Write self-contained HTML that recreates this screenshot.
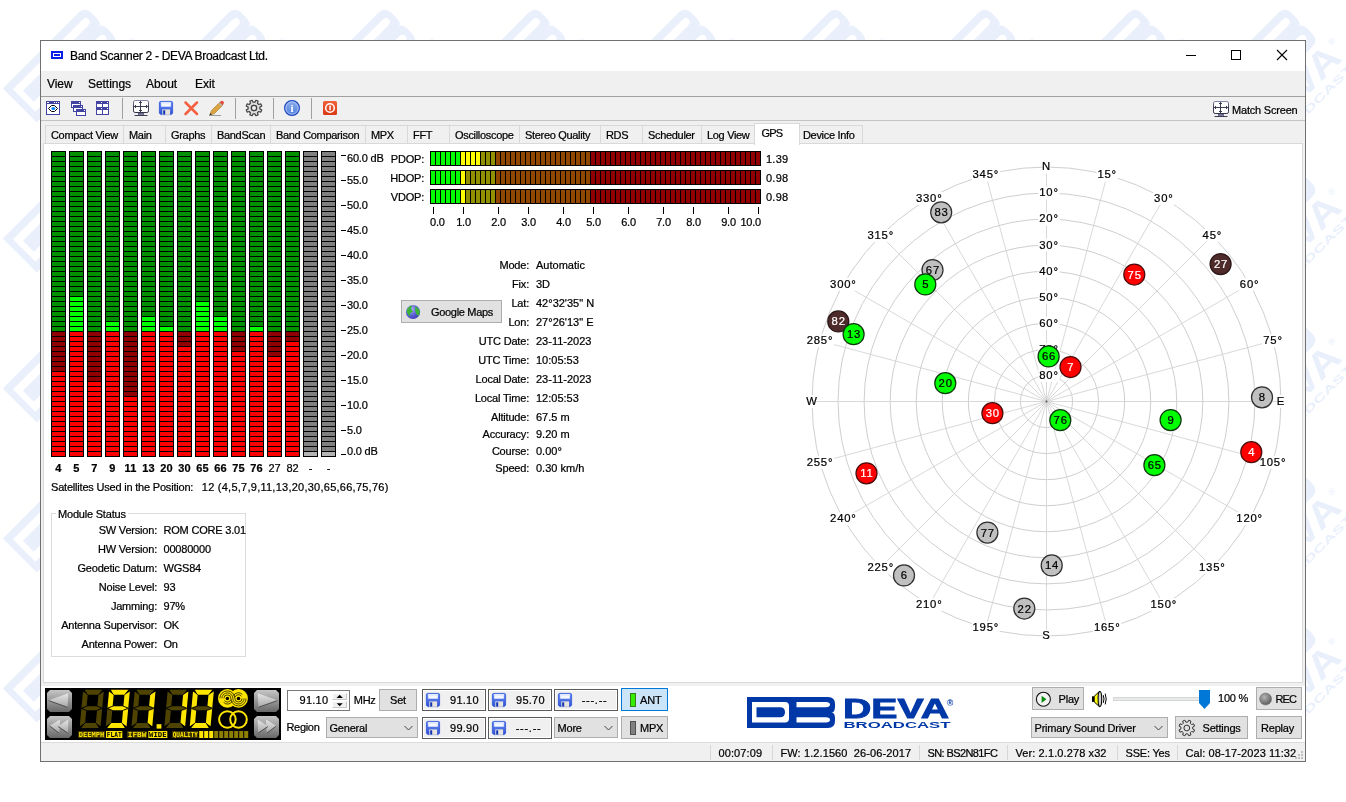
<!DOCTYPE html>
<html lang="en"><head><meta charset="utf-8"><title>Band Scanner 2 - DEVA Broadcast Ltd.</title>
<style>
html,body{margin:0;padding:0;}
body{width:1346px;height:802px;overflow:hidden;background:#fff;position:relative;font-family:"Liberation Sans",sans-serif;font-size:11px;color:#000;}
.a{position:absolute;}
.t{position:absolute;white-space:pre;font-size:11px;line-height:13px;height:13px;letter-spacing:-0.2px;color:#000;-webkit-text-stroke:0.22px #000;}
.v{letter-spacing:0;}
.r{text-align:right;}
.n{letter-spacing:0.25px;}
.tb{letter-spacing:-0.32px;}
.sb{letter-spacing:0.1px;}
.dash{letter-spacing:0.75px;}
.px{font-family:"DejaVu Sans Mono","Liberation Mono",monospace;font-weight:bold;font-size:7px;}
.b{font-weight:bold;}
.seg{font-size:12px;letter-spacing:-0.3px;line-height:15px;height:15px;}
.btn{position:absolute;box-sizing:border-box;background:#e1e1e1;border:1px solid #adadad;}
.pre{position:absolute;box-sizing:border-box;background:#f0f0f0;border:1px solid #5a5a5a;box-shadow:inset 0 0 0 1px #fff;}
svg{position:absolute;left:0;top:0;overflow:visible;}
svg text{font-family:"Liberation Sans",sans-serif;}
svg text.px{font-family:"DejaVu Sans Mono","Liberation Mono",monospace;}
</style></head>
<body>
<svg width="1346" height="802" viewBox="0 0 1346 802">
<g fill="#e9f0fc">
<g transform="translate(2.8 88.4) rotate(-45)"><g transform="scale(1.32 1.55)"><path fill-rule="evenodd" d="M0 0H81Q88 0 88 7V9.5Q88 15.5 84.5 15.5Q88 15.5 88 21.5V24Q88 31 81 31H0Z M5 5V25.5H38Q42 25.5 42 21.5V9Q42 5 38 5Z M49.5 5V10.3H79Q83 10.3 83 7.6Q83 5 79 5Z M49.5 20.2V25.5H79Q83 25.5 83 22.8Q83 20.2 79 20.2Z"/><path d="M9.5 10.3H33Q38 10.3 38 15.2Q38 20.2 33 20.2H9.5Z"/></g><text x="121" y="61" font-size="9" font-weight="bold">®</text></g>
<g transform="translate(2.8 238.4) rotate(-45)"><g transform="scale(1.32 1.55)"><path fill-rule="evenodd" d="M0 0H81Q88 0 88 7V9.5Q88 15.5 84.5 15.5Q88 15.5 88 21.5V24Q88 31 81 31H0Z M5 5V25.5H38Q42 25.5 42 21.5V9Q42 5 38 5Z M49.5 5V10.3H79Q83 10.3 83 7.6Q83 5 79 5Z M49.5 20.2V25.5H79Q83 25.5 83 22.8Q83 20.2 79 20.2Z"/><path d="M9.5 10.3H33Q38 10.3 38 15.2Q38 20.2 33 20.2H9.5Z"/></g></g>
<g transform="translate(2.8 388.4) rotate(-45)"><g transform="scale(1.32 1.55)"><path fill-rule="evenodd" d="M0 0H81Q88 0 88 7V9.5Q88 15.5 84.5 15.5Q88 15.5 88 21.5V24Q88 31 81 31H0Z M5 5V25.5H38Q42 25.5 42 21.5V9Q42 5 38 5Z M49.5 5V10.3H79Q83 10.3 83 7.6Q83 5 79 5Z M49.5 20.2V25.5H79Q83 25.5 83 22.8Q83 20.2 79 20.2Z"/><path d="M9.5 10.3H33Q38 10.3 38 15.2Q38 20.2 33 20.2H9.5Z"/></g></g>
<g transform="translate(2.8 538.4) rotate(-45)"><g transform="scale(1.32 1.55)"><path fill-rule="evenodd" d="M0 0H81Q88 0 88 7V9.5Q88 15.5 84.5 15.5Q88 15.5 88 21.5V24Q88 31 81 31H0Z M5 5V25.5H38Q42 25.5 42 21.5V9Q42 5 38 5Z M49.5 5V10.3H79Q83 10.3 83 7.6Q83 5 79 5Z M49.5 20.2V25.5H79Q83 25.5 83 22.8Q83 20.2 79 20.2Z"/><path d="M9.5 10.3H33Q38 10.3 38 15.2Q38 20.2 33 20.2H9.5Z"/></g></g>
<g transform="translate(2.8 688.4) rotate(-45)"><g transform="scale(1.32 1.55)"><path fill-rule="evenodd" d="M0 0H81Q88 0 88 7V9.5Q88 15.5 84.5 15.5Q88 15.5 88 21.5V24Q88 31 81 31H0Z M5 5V25.5H38Q42 25.5 42 21.5V9Q42 5 38 5Z M49.5 5V10.3H79Q83 10.3 83 7.6Q83 5 79 5Z M49.5 20.2V25.5H79Q83 25.5 83 22.8Q83 20.2 79 20.2Z"/><path d="M9.5 10.3H33Q38 10.3 38 15.2Q38 20.2 33 20.2H9.5Z"/></g></g>
<g transform="translate(152.8 88.4) rotate(-45)"><g transform="scale(1.32 1.55)"><path fill-rule="evenodd" d="M0 0H81Q88 0 88 7V9.5Q88 15.5 84.5 15.5Q88 15.5 88 21.5V24Q88 31 81 31H0Z M5 5V25.5H38Q42 25.5 42 21.5V9Q42 5 38 5Z M49.5 5V10.3H79Q83 10.3 83 7.6Q83 5 79 5Z M49.5 20.2V25.5H79Q83 25.5 83 22.8Q83 20.2 79 20.2Z"/><path d="M9.5 10.3H33Q38 10.3 38 15.2Q38 20.2 33 20.2H9.5Z"/></g><text x="121" y="61" font-size="9" font-weight="bold">®</text></g>
<g transform="translate(302.8 88.4) rotate(-45)"><g transform="scale(1.32 1.55)"><path fill-rule="evenodd" d="M0 0H81Q88 0 88 7V9.5Q88 15.5 84.5 15.5Q88 15.5 88 21.5V24Q88 31 81 31H0Z M5 5V25.5H38Q42 25.5 42 21.5V9Q42 5 38 5Z M49.5 5V10.3H79Q83 10.3 83 7.6Q83 5 79 5Z M49.5 20.2V25.5H79Q83 25.5 83 22.8Q83 20.2 79 20.2Z"/><path d="M9.5 10.3H33Q38 10.3 38 15.2Q38 20.2 33 20.2H9.5Z"/></g><text x="121" y="61" font-size="9" font-weight="bold">®</text></g>
<g transform="translate(452.8 88.4) rotate(-45)"><g transform="scale(1.32 1.55)"><path fill-rule="evenodd" d="M0 0H81Q88 0 88 7V9.5Q88 15.5 84.5 15.5Q88 15.5 88 21.5V24Q88 31 81 31H0Z M5 5V25.5H38Q42 25.5 42 21.5V9Q42 5 38 5Z M49.5 5V10.3H79Q83 10.3 83 7.6Q83 5 79 5Z M49.5 20.2V25.5H79Q83 25.5 83 22.8Q83 20.2 79 20.2Z"/><path d="M9.5 10.3H33Q38 10.3 38 15.2Q38 20.2 33 20.2H9.5Z"/></g><text x="121" y="61" font-size="9" font-weight="bold">®</text></g>
<g transform="translate(602.8 88.4) rotate(-45)"><g transform="scale(1.32 1.55)"><path fill-rule="evenodd" d="M0 0H81Q88 0 88 7V9.5Q88 15.5 84.5 15.5Q88 15.5 88 21.5V24Q88 31 81 31H0Z M5 5V25.5H38Q42 25.5 42 21.5V9Q42 5 38 5Z M49.5 5V10.3H79Q83 10.3 83 7.6Q83 5 79 5Z M49.5 20.2V25.5H79Q83 25.5 83 22.8Q83 20.2 79 20.2Z"/><path d="M9.5 10.3H33Q38 10.3 38 15.2Q38 20.2 33 20.2H9.5Z"/></g><text x="121" y="61" font-size="9" font-weight="bold">®</text></g>
<g transform="translate(752.8 88.4) rotate(-45)"><g transform="scale(1.32 1.55)"><path fill-rule="evenodd" d="M0 0H81Q88 0 88 7V9.5Q88 15.5 84.5 15.5Q88 15.5 88 21.5V24Q88 31 81 31H0Z M5 5V25.5H38Q42 25.5 42 21.5V9Q42 5 38 5Z M49.5 5V10.3H79Q83 10.3 83 7.6Q83 5 79 5Z M49.5 20.2V25.5H79Q83 25.5 83 22.8Q83 20.2 79 20.2Z"/><path d="M9.5 10.3H33Q38 10.3 38 15.2Q38 20.2 33 20.2H9.5Z"/></g><text x="121" y="61" font-size="9" font-weight="bold">®</text></g>
<g transform="translate(902.8 88.4) rotate(-45)"><g transform="scale(1.32 1.55)"><path fill-rule="evenodd" d="M0 0H81Q88 0 88 7V9.5Q88 15.5 84.5 15.5Q88 15.5 88 21.5V24Q88 31 81 31H0Z M5 5V25.5H38Q42 25.5 42 21.5V9Q42 5 38 5Z M49.5 5V10.3H79Q83 10.3 83 7.6Q83 5 79 5Z M49.5 20.2V25.5H79Q83 25.5 83 22.8Q83 20.2 79 20.2Z"/><path d="M9.5 10.3H33Q38 10.3 38 15.2Q38 20.2 33 20.2H9.5Z"/></g><text x="121" y="61" font-size="9" font-weight="bold">®</text></g>
<g transform="translate(1052.8 88.4) rotate(-45)"><g transform="scale(1.32 1.55)"><path fill-rule="evenodd" d="M0 0H81Q88 0 88 7V9.5Q88 15.5 84.5 15.5Q88 15.5 88 21.5V24Q88 31 81 31H0Z M5 5V25.5H38Q42 25.5 42 21.5V9Q42 5 38 5Z M49.5 5V10.3H79Q83 10.3 83 7.6Q83 5 79 5Z M49.5 20.2V25.5H79Q83 25.5 83 22.8Q83 20.2 79 20.2Z"/><path d="M9.5 10.3H33Q38 10.3 38 15.2Q38 20.2 33 20.2H9.5Z"/></g><text x="121" y="61" font-size="9" font-weight="bold">®</text></g>
<g transform="translate(1202.8 88.4) rotate(-45)"><g transform="scale(1.32 1.55)"><path fill-rule="evenodd" d="M0 0H81Q88 0 88 7V9.5Q88 15.5 84.5 15.5Q88 15.5 88 21.5V24Q88 31 81 31H0Z M5 5V25.5H38Q42 25.5 42 21.5V9Q42 5 38 5Z M49.5 5V10.3H79Q83 10.3 83 7.6Q83 5 79 5Z M49.5 20.2V25.5H79Q83 25.5 83 22.8Q83 20.2 79 20.2Z"/><path d="M9.5 10.3H33Q38 10.3 38 15.2Q38 20.2 33 20.2H9.5Z"/></g><text x="0" y="79" font-size="36" font-weight="bold" textLength="120" lengthAdjust="spacingAndGlyphs">DEVA</text><text x="1" y="93" font-size="10.5" font-weight="bold" textLength="119" lengthAdjust="spacingAndGlyphs">BROADCAST</text><text x="121" y="61" font-size="9" font-weight="bold">®</text></g>
<g transform="translate(1202.8 238.4) rotate(-45)"><g transform="scale(1.32 1.55)"><path fill-rule="evenodd" d="M0 0H81Q88 0 88 7V9.5Q88 15.5 84.5 15.5Q88 15.5 88 21.5V24Q88 31 81 31H0Z M5 5V25.5H38Q42 25.5 42 21.5V9Q42 5 38 5Z M49.5 5V10.3H79Q83 10.3 83 7.6Q83 5 79 5Z M49.5 20.2V25.5H79Q83 25.5 83 22.8Q83 20.2 79 20.2Z"/><path d="M9.5 10.3H33Q38 10.3 38 15.2Q38 20.2 33 20.2H9.5Z"/></g><text x="0" y="79" font-size="36" font-weight="bold" textLength="120" lengthAdjust="spacingAndGlyphs">DEVA</text><text x="1" y="93" font-size="10.5" font-weight="bold" textLength="119" lengthAdjust="spacingAndGlyphs">BROADCAST</text><text x="121" y="61" font-size="9" font-weight="bold">®</text></g>
<g transform="translate(1202.8 388.4) rotate(-45)"><g transform="scale(1.32 1.55)"><path fill-rule="evenodd" d="M0 0H81Q88 0 88 7V9.5Q88 15.5 84.5 15.5Q88 15.5 88 21.5V24Q88 31 81 31H0Z M5 5V25.5H38Q42 25.5 42 21.5V9Q42 5 38 5Z M49.5 5V10.3H79Q83 10.3 83 7.6Q83 5 79 5Z M49.5 20.2V25.5H79Q83 25.5 83 22.8Q83 20.2 79 20.2Z"/><path d="M9.5 10.3H33Q38 10.3 38 15.2Q38 20.2 33 20.2H9.5Z"/></g><text x="0" y="79" font-size="36" font-weight="bold" textLength="120" lengthAdjust="spacingAndGlyphs">DEVA</text><text x="1" y="93" font-size="10.5" font-weight="bold" textLength="119" lengthAdjust="spacingAndGlyphs">BROADCAST</text><text x="121" y="61" font-size="9" font-weight="bold">®</text></g>
<g transform="translate(1202.8 538.4) rotate(-45)"><g transform="scale(1.32 1.55)"><path fill-rule="evenodd" d="M0 0H81Q88 0 88 7V9.5Q88 15.5 84.5 15.5Q88 15.5 88 21.5V24Q88 31 81 31H0Z M5 5V25.5H38Q42 25.5 42 21.5V9Q42 5 38 5Z M49.5 5V10.3H79Q83 10.3 83 7.6Q83 5 79 5Z M49.5 20.2V25.5H79Q83 25.5 83 22.8Q83 20.2 79 20.2Z"/><path d="M9.5 10.3H33Q38 10.3 38 15.2Q38 20.2 33 20.2H9.5Z"/></g><text x="0" y="79" font-size="36" font-weight="bold" textLength="120" lengthAdjust="spacingAndGlyphs">DEVA</text><text x="1" y="93" font-size="10.5" font-weight="bold" textLength="119" lengthAdjust="spacingAndGlyphs">BROADCAST</text><text x="121" y="61" font-size="9" font-weight="bold">®</text></g>
<g transform="translate(1202.8 688.4) rotate(-45)"><g transform="scale(1.32 1.55)"><path fill-rule="evenodd" d="M0 0H81Q88 0 88 7V9.5Q88 15.5 84.5 15.5Q88 15.5 88 21.5V24Q88 31 81 31H0Z M5 5V25.5H38Q42 25.5 42 21.5V9Q42 5 38 5Z M49.5 5V10.3H79Q83 10.3 83 7.6Q83 5 79 5Z M49.5 20.2V25.5H79Q83 25.5 83 22.8Q83 20.2 79 20.2Z"/><path d="M9.5 10.3H33Q38 10.3 38 15.2Q38 20.2 33 20.2H9.5Z"/></g><text x="0" y="79" font-size="36" font-weight="bold" textLength="120" lengthAdjust="spacingAndGlyphs">DEVA</text><text x="1" y="93" font-size="10.5" font-weight="bold" textLength="119" lengthAdjust="spacingAndGlyphs">BROADCAST</text><text x="121" y="61" font-size="9" font-weight="bold">®</text></g>
</g>
<rect x="0" y="762" width="1346" height="40" fill="#fff"/>
</svg>
<div class="a" style="left:40px;top:40px;width:1264px;height:720px;border:1px solid #707070;background:#f0f0f0;"></div>
<div class="a" style="left:41px;top:41px;width:1264px;height:30px;background:#fff;"></div>
<div class="a" style="left:51px;top:51px;width:12px;height:8px;background:#0a1ee6;"></div>
<div class="a" style="left:53px;top:53px;width:8px;height:4px;background:#fff;"></div>
<div class="a" style="left:54px;top:54px;width:6px;height:2px;background:#0a1ee6;"></div>
<div class="t seg" style="left:70px;top:48.7px;">Band Scanner 2 - DEVA Broadcast Ltd.</div>
<svg width="1346" height="802" viewBox="0 0 1346 802"><g stroke="#000" stroke-width="1" fill="none" shape-rendering="crispEdges"><path d="M1186 55.5H1196"/><rect x="1231.5" y="50.5" width="9" height="9"/></g><g stroke="#000" stroke-width="1.1" fill="none"><path d="M1277 50L1287 60M1287 50L1277 60"/></g></svg>
<div class="t seg" style="left:47px;top:77.3px;letter-spacing:-0.05px;">View</div>
<div class="t seg" style="left:88px;top:77.3px;letter-spacing:-0.05px;">Settings</div>
<div class="t seg" style="left:146px;top:77.3px;letter-spacing:-0.05px;">About</div>
<div class="t seg" style="left:195px;top:77.3px;letter-spacing:-0.05px;">Exit</div>
<div class="a" style="left:41px;top:96px;width:1264px;height:1px;background:#a0a0a0;"></div>
<div class="a" style="left:41px;top:120px;width:1264px;height:1px;background:#c4c4c4;"></div>
<svg width="1346" height="802" viewBox="0 0 1346 802"><rect x="122" y="98" width="1" height="21" fill="#a0a0a0"/><rect x="235" y="98" width="1" height="21" fill="#a0a0a0"/><rect x="273" y="98" width="1" height="21" fill="#a0a0a0"/><rect x="311" y="98" width="1" height="21" fill="#a0a0a0"/><g shape-rendering="crispEdges"><rect x="46" y="101" width="14" height="14" fill="#4343a4"/><rect x="47" y="104" width="12" height="10" fill="#fff"/><rect x="47" y="102" width="2" height="1" fill="#fff"/><rect x="54" y="102" width="1" height="1" fill="#fff"/><rect x="56" y="102" width="1" height="1" fill="#fff"/><rect x="58" y="102" width="1" height="1" fill="#fff"/></g><path d="M48.5 108.5L51.5 105.5H54.5L57.5 108.5L54.5 111.5H51.5Z" fill="#fff" stroke="#000" stroke-width="1"/><ellipse cx="53.3" cy="108.5" rx="2" ry="1.6" fill="#0a84ff"/><g shape-rendering="crispEdges"><rect x="71" y="101" width="10" height="7" fill="#4343a4"/><rect x="72" y="104" width="8" height="3" fill="#fff"/><rect x="79" y="102" width="1" height="1" fill="#fff"/><rect x="73" y="105" width="10" height="7" fill="#4343a4"/><rect x="74" y="108" width="8" height="3" fill="#fff"/><rect x="81" y="106" width="1" height="1" fill="#fff"/><rect x="76" y="109" width="10" height="7" fill="#4343a4"/><rect x="77" y="112" width="8" height="3" fill="#fff"/><rect x="84" y="110" width="1" height="1" fill="#fff"/></g><g shape-rendering="crispEdges"><rect x="96" y="101" width="13" height="14" fill="#4343a4"/><rect x="97" y="104" width="5" height="3" fill="#fff"/><rect x="103" y="104" width="5" height="3" fill="#fff"/><rect x="97" y="110" width="5" height="4" fill="#fff"/><rect x="103" y="110" width="5" height="4" fill="#fff"/><rect x="101" y="102" width="1" height="1" fill="#fff"/><rect x="107" y="102" width="1" height="1" fill="#fff"/><rect x="101" y="108" width="1" height="1" fill="#fff"/><rect x="107" y="108" width="1" height="1" fill="#fff"/></g><g transform="translate(133 100)"><defs><linearGradient id="mg133" x1="0" y1="0" x2="0" y2="1"><stop offset="0" stop-color="#8484a4"/><stop offset="0.5" stop-color="#3c3c52"/><stop offset="1" stop-color="#34344a"/></linearGradient></defs><rect x="0.5" y="0.5" width="15" height="12" rx="1.6" fill="#fff" stroke="url(#mg133)"/><path d="M7.5 1V12M1 6.5H15M6 2.5H9M6 10.5H9M2.5 5V8M13.5 5V8" stroke="#3c3c52" stroke-width="1" fill="none"/><rect x="5.5" y="13" width="5" height="2.5" fill="#7c7ca4" stroke="#3c3c52" stroke-width="0.6"/><path d="M2 15.5H14" stroke="#3c3c52" stroke-width="1.1" stroke-linecap="round"/></g><g transform="translate(159 101)"><defs><linearGradient id="fg159_101" x1="0" y1="0" x2="0" y2="1"><stop offset="0" stop-color="#7096f8"/><stop offset="1" stop-color="#2a4cd4"/></linearGradient></defs><path d="M1.8 0.4H12.2Q13.6 0.4 13.6 1.8V12.2L12.2 13.6H1.8L0.4 12.2V1.8Q0.4 0.4 1.8 0.4Z" fill="url(#fg159_101)" stroke="#2c50d6" stroke-width="0.8"/><rect x="2.2" y="1.1" width="9.6" height="4.6" fill="#f6f8ff"/><rect x="2.2" y="1.1" width="9.6" height="1.6" fill="#dfe7ff"/><rect x="3.3" y="8.4" width="7.8" height="5.4" fill="#e6e4dc"/><rect x="4.2" y="9.3" width="2" height="4.3" fill="#1234b4"/></g><path d="M185.5 102.5L197 114M197 102.5L185.5 114" stroke="#f4603f" stroke-width="2.5" stroke-linecap="round" fill="none"/><g><path d="M209.5 115.5L211.5 110.5L219.5 102.5L222.5 105.5L214.5 113.5Z" fill="#d9a441" stroke="#a47a2a" stroke-width="0.6"/><path d="M219.5 102.5L221 101Q222.2 100.2 223.3 101.3Q224.4 102.4 223.6 103.8L222.5 105.5Z" fill="#e0503a"/><path d="M218.6 103.4L221.6 106.4L222.5 105.5L219.5 102.5Z" fill="#b8b8b8"/><path d="M209.5 115.5L210.4 113L212 114.6Z" fill="#333"/><rect x="209" y="115" width="12" height="1" fill="#9a9a9a"/></g><path d="M254.90 102.15L255.92 100.23L258.13 101.15L257.50 103.23L258.77 104.50L260.85 103.87L261.77 106.08L259.85 107.10L259.85 108.90L261.77 109.92L260.85 112.13L258.77 111.50L257.50 112.77L258.13 114.85L255.92 115.77L254.90 113.85L253.10 113.85L252.08 115.77L249.87 114.85L250.50 112.77L249.23 111.50L247.15 112.13L246.23 109.92L248.15 108.90L248.15 107.10L246.23 106.08L247.15 103.87L249.23 104.50L250.50 103.23L249.87 101.15L252.08 100.23L253.10 102.15Z" fill="#dcdcdc" stroke="#444" stroke-width="1.2" stroke-linejoin="round"/><circle cx="254" cy="108" r="2.64" fill="none" stroke="#444" stroke-width="1.2"/><circle cx="254" cy="108" r="2.6" fill="#f0f0f0" stroke="#444" stroke-width="1.2"/><defs><linearGradient id="ig" x1="0" y1="0" x2="0" y2="1"><stop offset="0" stop-color="#8fb0ee"/><stop offset="1" stop-color="#4f7fdc"/></linearGradient><linearGradient id="pg" x1="0" y1="0" x2="0" y2="1"><stop offset="0" stop-color="#f0603a"/><stop offset="1" stop-color="#d83a14"/></linearGradient></defs><circle cx="292" cy="108" r="7.4" fill="url(#ig)" stroke="#1c48c0" stroke-width="1.2"/><circle cx="292" cy="108" r="6.2" fill="none" stroke="#b8cdf6" stroke-width="0.8"/><text x="292" y="112.3" font-size="11" font-weight="bold" fill="#fff" text-anchor="middle" style="font-family:'Liberation Serif',serif">i</text><rect x="323" y="101" width="14" height="14" rx="1.5" fill="url(#pg)"/><circle cx="330" cy="108" r="4.3" fill="none" stroke="#fff" stroke-width="1.5"/><rect x="329.3" y="105.6" width="1.5" height="4.6" fill="#fff"/><g transform="translate(1213 101)"><defs><linearGradient id="mg1213" x1="0" y1="0" x2="0" y2="1"><stop offset="0" stop-color="#8484a4"/><stop offset="0.5" stop-color="#3c3c52"/><stop offset="1" stop-color="#34344a"/></linearGradient></defs><rect x="0.5" y="0.5" width="15" height="12" rx="1.6" fill="#fff" stroke="url(#mg1213)"/><path d="M7.5 1V12M1 6.5H15M6 2.5H9M6 10.5H9M2.5 5V8M13.5 5V8" stroke="#3c3c52" stroke-width="1" fill="none"/><rect x="5.5" y="13" width="5" height="2.5" fill="#7c7ca4" stroke="#3c3c52" stroke-width="0.6"/><path d="M2 15.5H14" stroke="#3c3c52" stroke-width="1.1" stroke-linecap="round"/></g></svg>
<div class="t " style="left:1232px;top:103.5px;">Match Screen</div>
<div class="a" style="left:43px;top:143px;width:1258px;height:538px;border:1px solid #d9d9d9;background:#fff;"></div>
<div class="a" style="left:45px;top:125px;width:77px;height:17px;border:1px solid #d9d9d9;border-bottom:none;background:#f0f0f0;"></div>
<div class="t tb" style="left:51px;top:128.5px;">Compact View</div>
<div class="a" style="left:123px;top:125px;width:41px;height:17px;border:1px solid #d9d9d9;border-bottom:none;background:#f0f0f0;"></div>
<div class="t tb" style="left:129px;top:128.5px;">Main</div>
<div class="a" style="left:165px;top:125px;width:45px;height:17px;border:1px solid #d9d9d9;border-bottom:none;background:#f0f0f0;"></div>
<div class="t tb" style="left:171px;top:128.5px;">Graphs</div>
<div class="a" style="left:211px;top:125px;width:58px;height:17px;border:1px solid #d9d9d9;border-bottom:none;background:#f0f0f0;"></div>
<div class="t tb" style="left:217px;top:128.5px;">BandScan</div>
<div class="a" style="left:270px;top:125px;width:94px;height:17px;border:1px solid #d9d9d9;border-bottom:none;background:#f0f0f0;"></div>
<div class="t tb" style="left:276px;top:128.5px;">Band Comparison</div>
<div class="a" style="left:365px;top:125px;width:41px;height:17px;border:1px solid #d9d9d9;border-bottom:none;background:#f0f0f0;"></div>
<div class="t tb" style="left:371px;top:128.5px;">MPX</div>
<div class="a" style="left:407px;top:125px;width:41px;height:17px;border:1px solid #d9d9d9;border-bottom:none;background:#f0f0f0;"></div>
<div class="t tb" style="left:413px;top:128.5px;">FFT</div>
<div class="a" style="left:449px;top:125px;width:69px;height:17px;border:1px solid #d9d9d9;border-bottom:none;background:#f0f0f0;"></div>
<div class="t tb" style="left:455px;top:128.5px;">Oscilloscope</div>
<div class="a" style="left:519px;top:125px;width:80px;height:17px;border:1px solid #d9d9d9;border-bottom:none;background:#f0f0f0;"></div>
<div class="t tb" style="left:525px;top:128.5px;">Stereo Quality</div>
<div class="a" style="left:600px;top:125px;width:41px;height:17px;border:1px solid #d9d9d9;border-bottom:none;background:#f0f0f0;"></div>
<div class="t tb" style="left:606px;top:128.5px;">RDS</div>
<div class="a" style="left:642px;top:125px;width:58px;height:17px;border:1px solid #d9d9d9;border-bottom:none;background:#f0f0f0;"></div>
<div class="t tb" style="left:648px;top:128.5px;">Scheduler</div>
<div class="a" style="left:701px;top:125px;width:54px;height:17px;border:1px solid #d9d9d9;border-bottom:none;background:#f0f0f0;"></div>
<div class="t tb" style="left:707px;top:128.5px;">Log View</div>
<div class="a" style="left:797px;top:125px;width:64px;height:17px;border:1px solid #d9d9d9;border-bottom:none;background:#f0f0f0;"></div>
<div class="t tb" style="left:803px;top:128.5px;">Device Info</div>
<div class="a" style="left:754px;top:123px;width:44px;height:21px;border:1px solid #d9d9d9;border-bottom:none;background:#fff;"></div>
<div class="t " style="left:761.5px;top:126.5px;letter-spacing:-0.8px;">GPS</div>
<svg width="1346" height="802" viewBox="0 0 1346 802" shape-rendering="crispEdges"><rect x="51" y="151" width="15" height="306" fill="#000"/><g fill="#009000"><rect x="52" y="152" width="13" height="4"/><rect x="52" y="157" width="13" height="4"/><rect x="52" y="162" width="13" height="4"/><rect x="52" y="167" width="13" height="4"/><rect x="52" y="172" width="13" height="4"/><rect x="52" y="177" width="13" height="4"/><rect x="52" y="182" width="13" height="4"/><rect x="52" y="187" width="13" height="4"/><rect x="52" y="192" width="13" height="4"/><rect x="52" y="197" width="13" height="4"/><rect x="52" y="202" width="13" height="4"/><rect x="52" y="207" width="13" height="4"/><rect x="52" y="212" width="13" height="4"/><rect x="52" y="217" width="13" height="4"/><rect x="52" y="222" width="13" height="4"/><rect x="52" y="227" width="13" height="4"/><rect x="52" y="232" width="13" height="4"/><rect x="52" y="237" width="13" height="4"/><rect x="52" y="242" width="13" height="4"/><rect x="52" y="247" width="13" height="4"/><rect x="52" y="252" width="13" height="4"/><rect x="52" y="257" width="13" height="4"/><rect x="52" y="262" width="13" height="4"/><rect x="52" y="267" width="13" height="4"/><rect x="52" y="272" width="13" height="4"/><rect x="52" y="277" width="13" height="4"/><rect x="52" y="282" width="13" height="4"/><rect x="52" y="287" width="13" height="4"/><rect x="52" y="292" width="13" height="4"/><rect x="52" y="297" width="13" height="4"/><rect x="52" y="302" width="13" height="4"/><rect x="52" y="307" width="13" height="4"/><rect x="52" y="312" width="13" height="4"/><rect x="52" y="317" width="13" height="4"/><rect x="52" y="322" width="13" height="4"/><rect x="52" y="327" width="13" height="4"/></g><g fill="#900000"><rect x="52" y="332" width="13" height="4"/><rect x="52" y="337" width="13" height="4"/><rect x="52" y="342" width="13" height="4"/><rect x="52" y="347" width="13" height="4"/><rect x="52" y="352" width="13" height="4"/><rect x="52" y="357" width="13" height="4"/><rect x="52" y="362" width="13" height="4"/><rect x="52" y="367" width="13" height="4"/></g><g fill="#ff0000"><rect x="52" y="372" width="13" height="4"/><rect x="52" y="377" width="13" height="4"/><rect x="52" y="382" width="13" height="4"/><rect x="52" y="387" width="13" height="4"/><rect x="52" y="392" width="13" height="4"/><rect x="52" y="397" width="13" height="4"/><rect x="52" y="402" width="13" height="4"/><rect x="52" y="407" width="13" height="4"/><rect x="52" y="412" width="13" height="4"/><rect x="52" y="417" width="13" height="4"/><rect x="52" y="422" width="13" height="4"/><rect x="52" y="427" width="13" height="4"/><rect x="52" y="432" width="13" height="4"/><rect x="52" y="437" width="13" height="4"/><rect x="52" y="442" width="13" height="4"/><rect x="52" y="447" width="13" height="4"/><rect x="52" y="452" width="13" height="4"/></g><rect x="69" y="151" width="15" height="306" fill="#000"/><g fill="#009000"><rect x="70" y="152" width="13" height="4"/><rect x="70" y="157" width="13" height="4"/><rect x="70" y="162" width="13" height="4"/><rect x="70" y="167" width="13" height="4"/><rect x="70" y="172" width="13" height="4"/><rect x="70" y="177" width="13" height="4"/><rect x="70" y="182" width="13" height="4"/><rect x="70" y="187" width="13" height="4"/><rect x="70" y="192" width="13" height="4"/><rect x="70" y="197" width="13" height="4"/><rect x="70" y="202" width="13" height="4"/><rect x="70" y="207" width="13" height="4"/><rect x="70" y="212" width="13" height="4"/><rect x="70" y="217" width="13" height="4"/><rect x="70" y="222" width="13" height="4"/><rect x="70" y="227" width="13" height="4"/><rect x="70" y="232" width="13" height="4"/><rect x="70" y="237" width="13" height="4"/><rect x="70" y="242" width="13" height="4"/><rect x="70" y="247" width="13" height="4"/><rect x="70" y="252" width="13" height="4"/><rect x="70" y="257" width="13" height="4"/><rect x="70" y="262" width="13" height="4"/><rect x="70" y="267" width="13" height="4"/><rect x="70" y="272" width="13" height="4"/><rect x="70" y="277" width="13" height="4"/><rect x="70" y="282" width="13" height="4"/><rect x="70" y="287" width="13" height="4"/><rect x="70" y="292" width="13" height="4"/></g><g fill="#00ff00"><rect x="70" y="297" width="13" height="4"/><rect x="70" y="302" width="13" height="4"/><rect x="70" y="307" width="13" height="4"/><rect x="70" y="312" width="13" height="4"/><rect x="70" y="317" width="13" height="4"/><rect x="70" y="322" width="13" height="4"/><rect x="70" y="327" width="13" height="4"/></g><g fill="#ff0000"><rect x="70" y="332" width="13" height="4"/><rect x="70" y="337" width="13" height="4"/><rect x="70" y="342" width="13" height="4"/><rect x="70" y="347" width="13" height="4"/><rect x="70" y="352" width="13" height="4"/><rect x="70" y="357" width="13" height="4"/><rect x="70" y="362" width="13" height="4"/><rect x="70" y="367" width="13" height="4"/><rect x="70" y="372" width="13" height="4"/><rect x="70" y="377" width="13" height="4"/><rect x="70" y="382" width="13" height="4"/><rect x="70" y="387" width="13" height="4"/><rect x="70" y="392" width="13" height="4"/><rect x="70" y="397" width="13" height="4"/><rect x="70" y="402" width="13" height="4"/><rect x="70" y="407" width="13" height="4"/><rect x="70" y="412" width="13" height="4"/><rect x="70" y="417" width="13" height="4"/><rect x="70" y="422" width="13" height="4"/><rect x="70" y="427" width="13" height="4"/><rect x="70" y="432" width="13" height="4"/><rect x="70" y="437" width="13" height="4"/><rect x="70" y="442" width="13" height="4"/><rect x="70" y="447" width="13" height="4"/><rect x="70" y="452" width="13" height="4"/></g><rect x="87" y="151" width="15" height="306" fill="#000"/><g fill="#009000"><rect x="88" y="152" width="13" height="4"/><rect x="88" y="157" width="13" height="4"/><rect x="88" y="162" width="13" height="4"/><rect x="88" y="167" width="13" height="4"/><rect x="88" y="172" width="13" height="4"/><rect x="88" y="177" width="13" height="4"/><rect x="88" y="182" width="13" height="4"/><rect x="88" y="187" width="13" height="4"/><rect x="88" y="192" width="13" height="4"/><rect x="88" y="197" width="13" height="4"/><rect x="88" y="202" width="13" height="4"/><rect x="88" y="207" width="13" height="4"/><rect x="88" y="212" width="13" height="4"/><rect x="88" y="217" width="13" height="4"/><rect x="88" y="222" width="13" height="4"/><rect x="88" y="227" width="13" height="4"/><rect x="88" y="232" width="13" height="4"/><rect x="88" y="237" width="13" height="4"/><rect x="88" y="242" width="13" height="4"/><rect x="88" y="247" width="13" height="4"/><rect x="88" y="252" width="13" height="4"/><rect x="88" y="257" width="13" height="4"/><rect x="88" y="262" width="13" height="4"/><rect x="88" y="267" width="13" height="4"/><rect x="88" y="272" width="13" height="4"/><rect x="88" y="277" width="13" height="4"/><rect x="88" y="282" width="13" height="4"/><rect x="88" y="287" width="13" height="4"/><rect x="88" y="292" width="13" height="4"/><rect x="88" y="297" width="13" height="4"/><rect x="88" y="302" width="13" height="4"/><rect x="88" y="307" width="13" height="4"/><rect x="88" y="312" width="13" height="4"/><rect x="88" y="317" width="13" height="4"/><rect x="88" y="322" width="13" height="4"/><rect x="88" y="327" width="13" height="4"/></g><g fill="#900000"><rect x="88" y="332" width="13" height="4"/><rect x="88" y="337" width="13" height="4"/><rect x="88" y="342" width="13" height="4"/><rect x="88" y="347" width="13" height="4"/><rect x="88" y="352" width="13" height="4"/><rect x="88" y="357" width="13" height="4"/><rect x="88" y="362" width="13" height="4"/><rect x="88" y="367" width="13" height="4"/><rect x="88" y="372" width="13" height="4"/><rect x="88" y="377" width="13" height="4"/></g><g fill="#ff0000"><rect x="88" y="382" width="13" height="4"/><rect x="88" y="387" width="13" height="4"/><rect x="88" y="392" width="13" height="4"/><rect x="88" y="397" width="13" height="4"/><rect x="88" y="402" width="13" height="4"/><rect x="88" y="407" width="13" height="4"/><rect x="88" y="412" width="13" height="4"/><rect x="88" y="417" width="13" height="4"/><rect x="88" y="422" width="13" height="4"/><rect x="88" y="427" width="13" height="4"/><rect x="88" y="432" width="13" height="4"/><rect x="88" y="437" width="13" height="4"/><rect x="88" y="442" width="13" height="4"/><rect x="88" y="447" width="13" height="4"/><rect x="88" y="452" width="13" height="4"/></g><rect x="105" y="151" width="15" height="306" fill="#000"/><g fill="#009000"><rect x="106" y="152" width="13" height="4"/><rect x="106" y="157" width="13" height="4"/><rect x="106" y="162" width="13" height="4"/><rect x="106" y="167" width="13" height="4"/><rect x="106" y="172" width="13" height="4"/><rect x="106" y="177" width="13" height="4"/><rect x="106" y="182" width="13" height="4"/><rect x="106" y="187" width="13" height="4"/><rect x="106" y="192" width="13" height="4"/><rect x="106" y="197" width="13" height="4"/><rect x="106" y="202" width="13" height="4"/><rect x="106" y="207" width="13" height="4"/><rect x="106" y="212" width="13" height="4"/><rect x="106" y="217" width="13" height="4"/><rect x="106" y="222" width="13" height="4"/><rect x="106" y="227" width="13" height="4"/><rect x="106" y="232" width="13" height="4"/><rect x="106" y="237" width="13" height="4"/><rect x="106" y="242" width="13" height="4"/><rect x="106" y="247" width="13" height="4"/><rect x="106" y="252" width="13" height="4"/><rect x="106" y="257" width="13" height="4"/><rect x="106" y="262" width="13" height="4"/><rect x="106" y="267" width="13" height="4"/><rect x="106" y="272" width="13" height="4"/><rect x="106" y="277" width="13" height="4"/><rect x="106" y="282" width="13" height="4"/><rect x="106" y="287" width="13" height="4"/><rect x="106" y="292" width="13" height="4"/><rect x="106" y="297" width="13" height="4"/><rect x="106" y="302" width="13" height="4"/><rect x="106" y="307" width="13" height="4"/><rect x="106" y="312" width="13" height="4"/><rect x="106" y="317" width="13" height="4"/></g><g fill="#00ff00"><rect x="106" y="322" width="13" height="4"/><rect x="106" y="327" width="13" height="4"/></g><g fill="#ff0000"><rect x="106" y="332" width="13" height="4"/><rect x="106" y="337" width="13" height="4"/><rect x="106" y="342" width="13" height="4"/><rect x="106" y="347" width="13" height="4"/><rect x="106" y="352" width="13" height="4"/><rect x="106" y="357" width="13" height="4"/><rect x="106" y="362" width="13" height="4"/><rect x="106" y="367" width="13" height="4"/><rect x="106" y="372" width="13" height="4"/><rect x="106" y="377" width="13" height="4"/><rect x="106" y="382" width="13" height="4"/><rect x="106" y="387" width="13" height="4"/><rect x="106" y="392" width="13" height="4"/><rect x="106" y="397" width="13" height="4"/><rect x="106" y="402" width="13" height="4"/><rect x="106" y="407" width="13" height="4"/><rect x="106" y="412" width="13" height="4"/><rect x="106" y="417" width="13" height="4"/><rect x="106" y="422" width="13" height="4"/><rect x="106" y="427" width="13" height="4"/><rect x="106" y="432" width="13" height="4"/><rect x="106" y="437" width="13" height="4"/><rect x="106" y="442" width="13" height="4"/><rect x="106" y="447" width="13" height="4"/><rect x="106" y="452" width="13" height="4"/></g><rect x="123" y="151" width="15" height="306" fill="#000"/><g fill="#009000"><rect x="124" y="152" width="13" height="4"/><rect x="124" y="157" width="13" height="4"/><rect x="124" y="162" width="13" height="4"/><rect x="124" y="167" width="13" height="4"/><rect x="124" y="172" width="13" height="4"/><rect x="124" y="177" width="13" height="4"/><rect x="124" y="182" width="13" height="4"/><rect x="124" y="187" width="13" height="4"/><rect x="124" y="192" width="13" height="4"/><rect x="124" y="197" width="13" height="4"/><rect x="124" y="202" width="13" height="4"/><rect x="124" y="207" width="13" height="4"/><rect x="124" y="212" width="13" height="4"/><rect x="124" y="217" width="13" height="4"/><rect x="124" y="222" width="13" height="4"/><rect x="124" y="227" width="13" height="4"/><rect x="124" y="232" width="13" height="4"/><rect x="124" y="237" width="13" height="4"/><rect x="124" y="242" width="13" height="4"/><rect x="124" y="247" width="13" height="4"/><rect x="124" y="252" width="13" height="4"/><rect x="124" y="257" width="13" height="4"/><rect x="124" y="262" width="13" height="4"/><rect x="124" y="267" width="13" height="4"/><rect x="124" y="272" width="13" height="4"/><rect x="124" y="277" width="13" height="4"/><rect x="124" y="282" width="13" height="4"/><rect x="124" y="287" width="13" height="4"/><rect x="124" y="292" width="13" height="4"/><rect x="124" y="297" width="13" height="4"/><rect x="124" y="302" width="13" height="4"/><rect x="124" y="307" width="13" height="4"/><rect x="124" y="312" width="13" height="4"/><rect x="124" y="317" width="13" height="4"/><rect x="124" y="322" width="13" height="4"/><rect x="124" y="327" width="13" height="4"/></g><g fill="#900000"><rect x="124" y="332" width="13" height="4"/><rect x="124" y="337" width="13" height="4"/><rect x="124" y="342" width="13" height="4"/><rect x="124" y="347" width="13" height="4"/><rect x="124" y="352" width="13" height="4"/><rect x="124" y="357" width="13" height="4"/><rect x="124" y="362" width="13" height="4"/><rect x="124" y="367" width="13" height="4"/><rect x="124" y="372" width="13" height="4"/><rect x="124" y="377" width="13" height="4"/><rect x="124" y="382" width="13" height="4"/><rect x="124" y="387" width="13" height="4"/><rect x="124" y="392" width="13" height="4"/></g><g fill="#ff0000"><rect x="124" y="397" width="13" height="4"/><rect x="124" y="402" width="13" height="4"/><rect x="124" y="407" width="13" height="4"/><rect x="124" y="412" width="13" height="4"/><rect x="124" y="417" width="13" height="4"/><rect x="124" y="422" width="13" height="4"/><rect x="124" y="427" width="13" height="4"/><rect x="124" y="432" width="13" height="4"/><rect x="124" y="437" width="13" height="4"/><rect x="124" y="442" width="13" height="4"/><rect x="124" y="447" width="13" height="4"/><rect x="124" y="452" width="13" height="4"/></g><rect x="141" y="151" width="15" height="306" fill="#000"/><g fill="#009000"><rect x="142" y="152" width="13" height="4"/><rect x="142" y="157" width="13" height="4"/><rect x="142" y="162" width="13" height="4"/><rect x="142" y="167" width="13" height="4"/><rect x="142" y="172" width="13" height="4"/><rect x="142" y="177" width="13" height="4"/><rect x="142" y="182" width="13" height="4"/><rect x="142" y="187" width="13" height="4"/><rect x="142" y="192" width="13" height="4"/><rect x="142" y="197" width="13" height="4"/><rect x="142" y="202" width="13" height="4"/><rect x="142" y="207" width="13" height="4"/><rect x="142" y="212" width="13" height="4"/><rect x="142" y="217" width="13" height="4"/><rect x="142" y="222" width="13" height="4"/><rect x="142" y="227" width="13" height="4"/><rect x="142" y="232" width="13" height="4"/><rect x="142" y="237" width="13" height="4"/><rect x="142" y="242" width="13" height="4"/><rect x="142" y="247" width="13" height="4"/><rect x="142" y="252" width="13" height="4"/><rect x="142" y="257" width="13" height="4"/><rect x="142" y="262" width="13" height="4"/><rect x="142" y="267" width="13" height="4"/><rect x="142" y="272" width="13" height="4"/><rect x="142" y="277" width="13" height="4"/><rect x="142" y="282" width="13" height="4"/><rect x="142" y="287" width="13" height="4"/><rect x="142" y="292" width="13" height="4"/><rect x="142" y="297" width="13" height="4"/><rect x="142" y="302" width="13" height="4"/><rect x="142" y="307" width="13" height="4"/><rect x="142" y="312" width="13" height="4"/></g><g fill="#00ff00"><rect x="142" y="317" width="13" height="4"/><rect x="142" y="322" width="13" height="4"/><rect x="142" y="327" width="13" height="4"/></g><g fill="#ff0000"><rect x="142" y="332" width="13" height="4"/><rect x="142" y="337" width="13" height="4"/><rect x="142" y="342" width="13" height="4"/><rect x="142" y="347" width="13" height="4"/><rect x="142" y="352" width="13" height="4"/><rect x="142" y="357" width="13" height="4"/><rect x="142" y="362" width="13" height="4"/><rect x="142" y="367" width="13" height="4"/><rect x="142" y="372" width="13" height="4"/><rect x="142" y="377" width="13" height="4"/><rect x="142" y="382" width="13" height="4"/><rect x="142" y="387" width="13" height="4"/><rect x="142" y="392" width="13" height="4"/><rect x="142" y="397" width="13" height="4"/><rect x="142" y="402" width="13" height="4"/><rect x="142" y="407" width="13" height="4"/><rect x="142" y="412" width="13" height="4"/><rect x="142" y="417" width="13" height="4"/><rect x="142" y="422" width="13" height="4"/><rect x="142" y="427" width="13" height="4"/><rect x="142" y="432" width="13" height="4"/><rect x="142" y="437" width="13" height="4"/><rect x="142" y="442" width="13" height="4"/><rect x="142" y="447" width="13" height="4"/><rect x="142" y="452" width="13" height="4"/></g><rect x="159" y="151" width="15" height="306" fill="#000"/><g fill="#009000"><rect x="160" y="152" width="13" height="4"/><rect x="160" y="157" width="13" height="4"/><rect x="160" y="162" width="13" height="4"/><rect x="160" y="167" width="13" height="4"/><rect x="160" y="172" width="13" height="4"/><rect x="160" y="177" width="13" height="4"/><rect x="160" y="182" width="13" height="4"/><rect x="160" y="187" width="13" height="4"/><rect x="160" y="192" width="13" height="4"/><rect x="160" y="197" width="13" height="4"/><rect x="160" y="202" width="13" height="4"/><rect x="160" y="207" width="13" height="4"/><rect x="160" y="212" width="13" height="4"/><rect x="160" y="217" width="13" height="4"/><rect x="160" y="222" width="13" height="4"/><rect x="160" y="227" width="13" height="4"/><rect x="160" y="232" width="13" height="4"/><rect x="160" y="237" width="13" height="4"/><rect x="160" y="242" width="13" height="4"/><rect x="160" y="247" width="13" height="4"/><rect x="160" y="252" width="13" height="4"/><rect x="160" y="257" width="13" height="4"/><rect x="160" y="262" width="13" height="4"/><rect x="160" y="267" width="13" height="4"/><rect x="160" y="272" width="13" height="4"/><rect x="160" y="277" width="13" height="4"/><rect x="160" y="282" width="13" height="4"/><rect x="160" y="287" width="13" height="4"/><rect x="160" y="292" width="13" height="4"/><rect x="160" y="297" width="13" height="4"/><rect x="160" y="302" width="13" height="4"/><rect x="160" y="307" width="13" height="4"/><rect x="160" y="312" width="13" height="4"/><rect x="160" y="317" width="13" height="4"/><rect x="160" y="322" width="13" height="4"/></g><g fill="#00ff00"><rect x="160" y="327" width="13" height="4"/></g><g fill="#ff0000"><rect x="160" y="332" width="13" height="4"/><rect x="160" y="337" width="13" height="4"/><rect x="160" y="342" width="13" height="4"/><rect x="160" y="347" width="13" height="4"/><rect x="160" y="352" width="13" height="4"/><rect x="160" y="357" width="13" height="4"/><rect x="160" y="362" width="13" height="4"/><rect x="160" y="367" width="13" height="4"/><rect x="160" y="372" width="13" height="4"/><rect x="160" y="377" width="13" height="4"/><rect x="160" y="382" width="13" height="4"/><rect x="160" y="387" width="13" height="4"/><rect x="160" y="392" width="13" height="4"/><rect x="160" y="397" width="13" height="4"/><rect x="160" y="402" width="13" height="4"/><rect x="160" y="407" width="13" height="4"/><rect x="160" y="412" width="13" height="4"/><rect x="160" y="417" width="13" height="4"/><rect x="160" y="422" width="13" height="4"/><rect x="160" y="427" width="13" height="4"/><rect x="160" y="432" width="13" height="4"/><rect x="160" y="437" width="13" height="4"/><rect x="160" y="442" width="13" height="4"/><rect x="160" y="447" width="13" height="4"/><rect x="160" y="452" width="13" height="4"/></g><rect x="177" y="151" width="15" height="306" fill="#000"/><g fill="#009000"><rect x="178" y="152" width="13" height="4"/><rect x="178" y="157" width="13" height="4"/><rect x="178" y="162" width="13" height="4"/><rect x="178" y="167" width="13" height="4"/><rect x="178" y="172" width="13" height="4"/><rect x="178" y="177" width="13" height="4"/><rect x="178" y="182" width="13" height="4"/><rect x="178" y="187" width="13" height="4"/><rect x="178" y="192" width="13" height="4"/><rect x="178" y="197" width="13" height="4"/><rect x="178" y="202" width="13" height="4"/><rect x="178" y="207" width="13" height="4"/><rect x="178" y="212" width="13" height="4"/><rect x="178" y="217" width="13" height="4"/><rect x="178" y="222" width="13" height="4"/><rect x="178" y="227" width="13" height="4"/><rect x="178" y="232" width="13" height="4"/><rect x="178" y="237" width="13" height="4"/><rect x="178" y="242" width="13" height="4"/><rect x="178" y="247" width="13" height="4"/><rect x="178" y="252" width="13" height="4"/><rect x="178" y="257" width="13" height="4"/><rect x="178" y="262" width="13" height="4"/><rect x="178" y="267" width="13" height="4"/><rect x="178" y="272" width="13" height="4"/><rect x="178" y="277" width="13" height="4"/><rect x="178" y="282" width="13" height="4"/><rect x="178" y="287" width="13" height="4"/><rect x="178" y="292" width="13" height="4"/><rect x="178" y="297" width="13" height="4"/><rect x="178" y="302" width="13" height="4"/><rect x="178" y="307" width="13" height="4"/><rect x="178" y="312" width="13" height="4"/><rect x="178" y="317" width="13" height="4"/><rect x="178" y="322" width="13" height="4"/><rect x="178" y="327" width="13" height="4"/></g><g fill="#900000"><rect x="178" y="332" width="13" height="4"/><rect x="178" y="337" width="13" height="4"/><rect x="178" y="342" width="13" height="4"/></g><g fill="#ff0000"><rect x="178" y="347" width="13" height="4"/><rect x="178" y="352" width="13" height="4"/><rect x="178" y="357" width="13" height="4"/><rect x="178" y="362" width="13" height="4"/><rect x="178" y="367" width="13" height="4"/><rect x="178" y="372" width="13" height="4"/><rect x="178" y="377" width="13" height="4"/><rect x="178" y="382" width="13" height="4"/><rect x="178" y="387" width="13" height="4"/><rect x="178" y="392" width="13" height="4"/><rect x="178" y="397" width="13" height="4"/><rect x="178" y="402" width="13" height="4"/><rect x="178" y="407" width="13" height="4"/><rect x="178" y="412" width="13" height="4"/><rect x="178" y="417" width="13" height="4"/><rect x="178" y="422" width="13" height="4"/><rect x="178" y="427" width="13" height="4"/><rect x="178" y="432" width="13" height="4"/><rect x="178" y="437" width="13" height="4"/><rect x="178" y="442" width="13" height="4"/><rect x="178" y="447" width="13" height="4"/><rect x="178" y="452" width="13" height="4"/></g><rect x="195" y="151" width="15" height="306" fill="#000"/><g fill="#009000"><rect x="196" y="152" width="13" height="4"/><rect x="196" y="157" width="13" height="4"/><rect x="196" y="162" width="13" height="4"/><rect x="196" y="167" width="13" height="4"/><rect x="196" y="172" width="13" height="4"/><rect x="196" y="177" width="13" height="4"/><rect x="196" y="182" width="13" height="4"/><rect x="196" y="187" width="13" height="4"/><rect x="196" y="192" width="13" height="4"/><rect x="196" y="197" width="13" height="4"/><rect x="196" y="202" width="13" height="4"/><rect x="196" y="207" width="13" height="4"/><rect x="196" y="212" width="13" height="4"/><rect x="196" y="217" width="13" height="4"/><rect x="196" y="222" width="13" height="4"/><rect x="196" y="227" width="13" height="4"/><rect x="196" y="232" width="13" height="4"/><rect x="196" y="237" width="13" height="4"/><rect x="196" y="242" width="13" height="4"/><rect x="196" y="247" width="13" height="4"/><rect x="196" y="252" width="13" height="4"/><rect x="196" y="257" width="13" height="4"/><rect x="196" y="262" width="13" height="4"/><rect x="196" y="267" width="13" height="4"/><rect x="196" y="272" width="13" height="4"/><rect x="196" y="277" width="13" height="4"/><rect x="196" y="282" width="13" height="4"/><rect x="196" y="287" width="13" height="4"/><rect x="196" y="292" width="13" height="4"/><rect x="196" y="297" width="13" height="4"/></g><g fill="#00ff00"><rect x="196" y="302" width="13" height="4"/><rect x="196" y="307" width="13" height="4"/><rect x="196" y="312" width="13" height="4"/><rect x="196" y="317" width="13" height="4"/><rect x="196" y="322" width="13" height="4"/><rect x="196" y="327" width="13" height="4"/></g><g fill="#ff0000"><rect x="196" y="332" width="13" height="4"/><rect x="196" y="337" width="13" height="4"/><rect x="196" y="342" width="13" height="4"/><rect x="196" y="347" width="13" height="4"/><rect x="196" y="352" width="13" height="4"/><rect x="196" y="357" width="13" height="4"/><rect x="196" y="362" width="13" height="4"/><rect x="196" y="367" width="13" height="4"/><rect x="196" y="372" width="13" height="4"/><rect x="196" y="377" width="13" height="4"/><rect x="196" y="382" width="13" height="4"/><rect x="196" y="387" width="13" height="4"/><rect x="196" y="392" width="13" height="4"/><rect x="196" y="397" width="13" height="4"/><rect x="196" y="402" width="13" height="4"/><rect x="196" y="407" width="13" height="4"/><rect x="196" y="412" width="13" height="4"/><rect x="196" y="417" width="13" height="4"/><rect x="196" y="422" width="13" height="4"/><rect x="196" y="427" width="13" height="4"/><rect x="196" y="432" width="13" height="4"/><rect x="196" y="437" width="13" height="4"/><rect x="196" y="442" width="13" height="4"/><rect x="196" y="447" width="13" height="4"/><rect x="196" y="452" width="13" height="4"/></g><rect x="213" y="151" width="15" height="306" fill="#000"/><g fill="#009000"><rect x="214" y="152" width="13" height="4"/><rect x="214" y="157" width="13" height="4"/><rect x="214" y="162" width="13" height="4"/><rect x="214" y="167" width="13" height="4"/><rect x="214" y="172" width="13" height="4"/><rect x="214" y="177" width="13" height="4"/><rect x="214" y="182" width="13" height="4"/><rect x="214" y="187" width="13" height="4"/><rect x="214" y="192" width="13" height="4"/><rect x="214" y="197" width="13" height="4"/><rect x="214" y="202" width="13" height="4"/><rect x="214" y="207" width="13" height="4"/><rect x="214" y="212" width="13" height="4"/><rect x="214" y="217" width="13" height="4"/><rect x="214" y="222" width="13" height="4"/><rect x="214" y="227" width="13" height="4"/><rect x="214" y="232" width="13" height="4"/><rect x="214" y="237" width="13" height="4"/><rect x="214" y="242" width="13" height="4"/><rect x="214" y="247" width="13" height="4"/><rect x="214" y="252" width="13" height="4"/><rect x="214" y="257" width="13" height="4"/><rect x="214" y="262" width="13" height="4"/><rect x="214" y="267" width="13" height="4"/><rect x="214" y="272" width="13" height="4"/><rect x="214" y="277" width="13" height="4"/><rect x="214" y="282" width="13" height="4"/><rect x="214" y="287" width="13" height="4"/><rect x="214" y="292" width="13" height="4"/><rect x="214" y="297" width="13" height="4"/><rect x="214" y="302" width="13" height="4"/><rect x="214" y="307" width="13" height="4"/><rect x="214" y="312" width="13" height="4"/></g><g fill="#00ff00"><rect x="214" y="317" width="13" height="4"/><rect x="214" y="322" width="13" height="4"/><rect x="214" y="327" width="13" height="4"/></g><g fill="#ff0000"><rect x="214" y="332" width="13" height="4"/><rect x="214" y="337" width="13" height="4"/><rect x="214" y="342" width="13" height="4"/><rect x="214" y="347" width="13" height="4"/><rect x="214" y="352" width="13" height="4"/><rect x="214" y="357" width="13" height="4"/><rect x="214" y="362" width="13" height="4"/><rect x="214" y="367" width="13" height="4"/><rect x="214" y="372" width="13" height="4"/><rect x="214" y="377" width="13" height="4"/><rect x="214" y="382" width="13" height="4"/><rect x="214" y="387" width="13" height="4"/><rect x="214" y="392" width="13" height="4"/><rect x="214" y="397" width="13" height="4"/><rect x="214" y="402" width="13" height="4"/><rect x="214" y="407" width="13" height="4"/><rect x="214" y="412" width="13" height="4"/><rect x="214" y="417" width="13" height="4"/><rect x="214" y="422" width="13" height="4"/><rect x="214" y="427" width="13" height="4"/><rect x="214" y="432" width="13" height="4"/><rect x="214" y="437" width="13" height="4"/><rect x="214" y="442" width="13" height="4"/><rect x="214" y="447" width="13" height="4"/><rect x="214" y="452" width="13" height="4"/></g><rect x="231" y="151" width="15" height="306" fill="#000"/><g fill="#009000"><rect x="232" y="152" width="13" height="4"/><rect x="232" y="157" width="13" height="4"/><rect x="232" y="162" width="13" height="4"/><rect x="232" y="167" width="13" height="4"/><rect x="232" y="172" width="13" height="4"/><rect x="232" y="177" width="13" height="4"/><rect x="232" y="182" width="13" height="4"/><rect x="232" y="187" width="13" height="4"/><rect x="232" y="192" width="13" height="4"/><rect x="232" y="197" width="13" height="4"/><rect x="232" y="202" width="13" height="4"/><rect x="232" y="207" width="13" height="4"/><rect x="232" y="212" width="13" height="4"/><rect x="232" y="217" width="13" height="4"/><rect x="232" y="222" width="13" height="4"/><rect x="232" y="227" width="13" height="4"/><rect x="232" y="232" width="13" height="4"/><rect x="232" y="237" width="13" height="4"/><rect x="232" y="242" width="13" height="4"/><rect x="232" y="247" width="13" height="4"/><rect x="232" y="252" width="13" height="4"/><rect x="232" y="257" width="13" height="4"/><rect x="232" y="262" width="13" height="4"/><rect x="232" y="267" width="13" height="4"/><rect x="232" y="272" width="13" height="4"/><rect x="232" y="277" width="13" height="4"/><rect x="232" y="282" width="13" height="4"/><rect x="232" y="287" width="13" height="4"/><rect x="232" y="292" width="13" height="4"/><rect x="232" y="297" width="13" height="4"/><rect x="232" y="302" width="13" height="4"/><rect x="232" y="307" width="13" height="4"/><rect x="232" y="312" width="13" height="4"/><rect x="232" y="317" width="13" height="4"/><rect x="232" y="322" width="13" height="4"/><rect x="232" y="327" width="13" height="4"/></g><g fill="#900000"><rect x="232" y="332" width="13" height="4"/><rect x="232" y="337" width="13" height="4"/><rect x="232" y="342" width="13" height="4"/><rect x="232" y="347" width="13" height="4"/></g><g fill="#ff0000"><rect x="232" y="352" width="13" height="4"/><rect x="232" y="357" width="13" height="4"/><rect x="232" y="362" width="13" height="4"/><rect x="232" y="367" width="13" height="4"/><rect x="232" y="372" width="13" height="4"/><rect x="232" y="377" width="13" height="4"/><rect x="232" y="382" width="13" height="4"/><rect x="232" y="387" width="13" height="4"/><rect x="232" y="392" width="13" height="4"/><rect x="232" y="397" width="13" height="4"/><rect x="232" y="402" width="13" height="4"/><rect x="232" y="407" width="13" height="4"/><rect x="232" y="412" width="13" height="4"/><rect x="232" y="417" width="13" height="4"/><rect x="232" y="422" width="13" height="4"/><rect x="232" y="427" width="13" height="4"/><rect x="232" y="432" width="13" height="4"/><rect x="232" y="437" width="13" height="4"/><rect x="232" y="442" width="13" height="4"/><rect x="232" y="447" width="13" height="4"/><rect x="232" y="452" width="13" height="4"/></g><rect x="249" y="151" width="15" height="306" fill="#000"/><g fill="#009000"><rect x="250" y="152" width="13" height="4"/><rect x="250" y="157" width="13" height="4"/><rect x="250" y="162" width="13" height="4"/><rect x="250" y="167" width="13" height="4"/><rect x="250" y="172" width="13" height="4"/><rect x="250" y="177" width="13" height="4"/><rect x="250" y="182" width="13" height="4"/><rect x="250" y="187" width="13" height="4"/><rect x="250" y="192" width="13" height="4"/><rect x="250" y="197" width="13" height="4"/><rect x="250" y="202" width="13" height="4"/><rect x="250" y="207" width="13" height="4"/><rect x="250" y="212" width="13" height="4"/><rect x="250" y="217" width="13" height="4"/><rect x="250" y="222" width="13" height="4"/><rect x="250" y="227" width="13" height="4"/><rect x="250" y="232" width="13" height="4"/><rect x="250" y="237" width="13" height="4"/><rect x="250" y="242" width="13" height="4"/><rect x="250" y="247" width="13" height="4"/><rect x="250" y="252" width="13" height="4"/><rect x="250" y="257" width="13" height="4"/><rect x="250" y="262" width="13" height="4"/><rect x="250" y="267" width="13" height="4"/><rect x="250" y="272" width="13" height="4"/><rect x="250" y="277" width="13" height="4"/><rect x="250" y="282" width="13" height="4"/><rect x="250" y="287" width="13" height="4"/><rect x="250" y="292" width="13" height="4"/><rect x="250" y="297" width="13" height="4"/><rect x="250" y="302" width="13" height="4"/><rect x="250" y="307" width="13" height="4"/><rect x="250" y="312" width="13" height="4"/><rect x="250" y="317" width="13" height="4"/><rect x="250" y="322" width="13" height="4"/></g><g fill="#00ff00"><rect x="250" y="327" width="13" height="4"/></g><g fill="#ff0000"><rect x="250" y="332" width="13" height="4"/><rect x="250" y="337" width="13" height="4"/><rect x="250" y="342" width="13" height="4"/><rect x="250" y="347" width="13" height="4"/><rect x="250" y="352" width="13" height="4"/><rect x="250" y="357" width="13" height="4"/><rect x="250" y="362" width="13" height="4"/><rect x="250" y="367" width="13" height="4"/><rect x="250" y="372" width="13" height="4"/><rect x="250" y="377" width="13" height="4"/><rect x="250" y="382" width="13" height="4"/><rect x="250" y="387" width="13" height="4"/><rect x="250" y="392" width="13" height="4"/><rect x="250" y="397" width="13" height="4"/><rect x="250" y="402" width="13" height="4"/><rect x="250" y="407" width="13" height="4"/><rect x="250" y="412" width="13" height="4"/><rect x="250" y="417" width="13" height="4"/><rect x="250" y="422" width="13" height="4"/><rect x="250" y="427" width="13" height="4"/><rect x="250" y="432" width="13" height="4"/><rect x="250" y="437" width="13" height="4"/><rect x="250" y="442" width="13" height="4"/><rect x="250" y="447" width="13" height="4"/><rect x="250" y="452" width="13" height="4"/></g><rect x="267" y="151" width="15" height="306" fill="#000"/><g fill="#009000"><rect x="268" y="152" width="13" height="4"/><rect x="268" y="157" width="13" height="4"/><rect x="268" y="162" width="13" height="4"/><rect x="268" y="167" width="13" height="4"/><rect x="268" y="172" width="13" height="4"/><rect x="268" y="177" width="13" height="4"/><rect x="268" y="182" width="13" height="4"/><rect x="268" y="187" width="13" height="4"/><rect x="268" y="192" width="13" height="4"/><rect x="268" y="197" width="13" height="4"/><rect x="268" y="202" width="13" height="4"/><rect x="268" y="207" width="13" height="4"/><rect x="268" y="212" width="13" height="4"/><rect x="268" y="217" width="13" height="4"/><rect x="268" y="222" width="13" height="4"/><rect x="268" y="227" width="13" height="4"/><rect x="268" y="232" width="13" height="4"/><rect x="268" y="237" width="13" height="4"/><rect x="268" y="242" width="13" height="4"/><rect x="268" y="247" width="13" height="4"/><rect x="268" y="252" width="13" height="4"/><rect x="268" y="257" width="13" height="4"/><rect x="268" y="262" width="13" height="4"/><rect x="268" y="267" width="13" height="4"/><rect x="268" y="272" width="13" height="4"/><rect x="268" y="277" width="13" height="4"/><rect x="268" y="282" width="13" height="4"/><rect x="268" y="287" width="13" height="4"/><rect x="268" y="292" width="13" height="4"/><rect x="268" y="297" width="13" height="4"/><rect x="268" y="302" width="13" height="4"/><rect x="268" y="307" width="13" height="4"/><rect x="268" y="312" width="13" height="4"/><rect x="268" y="317" width="13" height="4"/><rect x="268" y="322" width="13" height="4"/><rect x="268" y="327" width="13" height="4"/></g><g fill="#900000"><rect x="268" y="332" width="13" height="4"/><rect x="268" y="337" width="13" height="4"/><rect x="268" y="342" width="13" height="4"/><rect x="268" y="347" width="13" height="4"/><rect x="268" y="352" width="13" height="4"/></g><g fill="#ff0000"><rect x="268" y="357" width="13" height="4"/><rect x="268" y="362" width="13" height="4"/><rect x="268" y="367" width="13" height="4"/><rect x="268" y="372" width="13" height="4"/><rect x="268" y="377" width="13" height="4"/><rect x="268" y="382" width="13" height="4"/><rect x="268" y="387" width="13" height="4"/><rect x="268" y="392" width="13" height="4"/><rect x="268" y="397" width="13" height="4"/><rect x="268" y="402" width="13" height="4"/><rect x="268" y="407" width="13" height="4"/><rect x="268" y="412" width="13" height="4"/><rect x="268" y="417" width="13" height="4"/><rect x="268" y="422" width="13" height="4"/><rect x="268" y="427" width="13" height="4"/><rect x="268" y="432" width="13" height="4"/><rect x="268" y="437" width="13" height="4"/><rect x="268" y="442" width="13" height="4"/><rect x="268" y="447" width="13" height="4"/><rect x="268" y="452" width="13" height="4"/></g><rect x="285" y="151" width="15" height="306" fill="#000"/><g fill="#009000"><rect x="286" y="152" width="13" height="4"/><rect x="286" y="157" width="13" height="4"/><rect x="286" y="162" width="13" height="4"/><rect x="286" y="167" width="13" height="4"/><rect x="286" y="172" width="13" height="4"/><rect x="286" y="177" width="13" height="4"/><rect x="286" y="182" width="13" height="4"/><rect x="286" y="187" width="13" height="4"/><rect x="286" y="192" width="13" height="4"/><rect x="286" y="197" width="13" height="4"/><rect x="286" y="202" width="13" height="4"/><rect x="286" y="207" width="13" height="4"/><rect x="286" y="212" width="13" height="4"/><rect x="286" y="217" width="13" height="4"/><rect x="286" y="222" width="13" height="4"/><rect x="286" y="227" width="13" height="4"/><rect x="286" y="232" width="13" height="4"/><rect x="286" y="237" width="13" height="4"/><rect x="286" y="242" width="13" height="4"/><rect x="286" y="247" width="13" height="4"/><rect x="286" y="252" width="13" height="4"/><rect x="286" y="257" width="13" height="4"/><rect x="286" y="262" width="13" height="4"/><rect x="286" y="267" width="13" height="4"/><rect x="286" y="272" width="13" height="4"/><rect x="286" y="277" width="13" height="4"/><rect x="286" y="282" width="13" height="4"/><rect x="286" y="287" width="13" height="4"/><rect x="286" y="292" width="13" height="4"/><rect x="286" y="297" width="13" height="4"/><rect x="286" y="302" width="13" height="4"/><rect x="286" y="307" width="13" height="4"/><rect x="286" y="312" width="13" height="4"/><rect x="286" y="317" width="13" height="4"/><rect x="286" y="322" width="13" height="4"/><rect x="286" y="327" width="13" height="4"/></g><g fill="#900000"><rect x="286" y="332" width="13" height="4"/><rect x="286" y="337" width="13" height="4"/></g><g fill="#ff0000"><rect x="286" y="342" width="13" height="4"/><rect x="286" y="347" width="13" height="4"/><rect x="286" y="352" width="13" height="4"/><rect x="286" y="357" width="13" height="4"/><rect x="286" y="362" width="13" height="4"/><rect x="286" y="367" width="13" height="4"/><rect x="286" y="372" width="13" height="4"/><rect x="286" y="377" width="13" height="4"/><rect x="286" y="382" width="13" height="4"/><rect x="286" y="387" width="13" height="4"/><rect x="286" y="392" width="13" height="4"/><rect x="286" y="397" width="13" height="4"/><rect x="286" y="402" width="13" height="4"/><rect x="286" y="407" width="13" height="4"/><rect x="286" y="412" width="13" height="4"/><rect x="286" y="417" width="13" height="4"/><rect x="286" y="422" width="13" height="4"/><rect x="286" y="427" width="13" height="4"/><rect x="286" y="432" width="13" height="4"/><rect x="286" y="437" width="13" height="4"/><rect x="286" y="442" width="13" height="4"/><rect x="286" y="447" width="13" height="4"/><rect x="286" y="452" width="13" height="4"/></g><rect x="303" y="151" width="15" height="306" fill="#000"/><g fill="#808080"><rect x="304" y="152" width="13" height="4"/><rect x="304" y="157" width="13" height="4"/><rect x="304" y="162" width="13" height="4"/><rect x="304" y="167" width="13" height="4"/><rect x="304" y="172" width="13" height="4"/><rect x="304" y="177" width="13" height="4"/><rect x="304" y="182" width="13" height="4"/><rect x="304" y="187" width="13" height="4"/><rect x="304" y="192" width="13" height="4"/><rect x="304" y="197" width="13" height="4"/><rect x="304" y="202" width="13" height="4"/><rect x="304" y="207" width="13" height="4"/><rect x="304" y="212" width="13" height="4"/><rect x="304" y="217" width="13" height="4"/><rect x="304" y="222" width="13" height="4"/><rect x="304" y="227" width="13" height="4"/><rect x="304" y="232" width="13" height="4"/><rect x="304" y="237" width="13" height="4"/><rect x="304" y="242" width="13" height="4"/><rect x="304" y="247" width="13" height="4"/><rect x="304" y="252" width="13" height="4"/><rect x="304" y="257" width="13" height="4"/><rect x="304" y="262" width="13" height="4"/><rect x="304" y="267" width="13" height="4"/><rect x="304" y="272" width="13" height="4"/><rect x="304" y="277" width="13" height="4"/><rect x="304" y="282" width="13" height="4"/><rect x="304" y="287" width="13" height="4"/><rect x="304" y="292" width="13" height="4"/><rect x="304" y="297" width="13" height="4"/><rect x="304" y="302" width="13" height="4"/><rect x="304" y="307" width="13" height="4"/><rect x="304" y="312" width="13" height="4"/><rect x="304" y="317" width="13" height="4"/><rect x="304" y="322" width="13" height="4"/><rect x="304" y="327" width="13" height="4"/><rect x="304" y="332" width="13" height="4"/><rect x="304" y="337" width="13" height="4"/><rect x="304" y="342" width="13" height="4"/><rect x="304" y="347" width="13" height="4"/><rect x="304" y="352" width="13" height="4"/><rect x="304" y="357" width="13" height="4"/><rect x="304" y="362" width="13" height="4"/><rect x="304" y="367" width="13" height="4"/><rect x="304" y="372" width="13" height="4"/><rect x="304" y="377" width="13" height="4"/><rect x="304" y="382" width="13" height="4"/><rect x="304" y="387" width="13" height="4"/><rect x="304" y="392" width="13" height="4"/><rect x="304" y="397" width="13" height="4"/><rect x="304" y="402" width="13" height="4"/><rect x="304" y="407" width="13" height="4"/><rect x="304" y="412" width="13" height="4"/><rect x="304" y="417" width="13" height="4"/><rect x="304" y="422" width="13" height="4"/><rect x="304" y="427" width="13" height="4"/><rect x="304" y="432" width="13" height="4"/><rect x="304" y="437" width="13" height="4"/><rect x="304" y="442" width="13" height="4"/><rect x="304" y="447" width="13" height="4"/><rect x="304" y="452" width="13" height="4" fill="#b4b4b4"/></g><rect x="321" y="151" width="15" height="306" fill="#000"/><g fill="#808080"><rect x="322" y="152" width="13" height="4"/><rect x="322" y="157" width="13" height="4"/><rect x="322" y="162" width="13" height="4"/><rect x="322" y="167" width="13" height="4"/><rect x="322" y="172" width="13" height="4"/><rect x="322" y="177" width="13" height="4"/><rect x="322" y="182" width="13" height="4"/><rect x="322" y="187" width="13" height="4"/><rect x="322" y="192" width="13" height="4"/><rect x="322" y="197" width="13" height="4"/><rect x="322" y="202" width="13" height="4"/><rect x="322" y="207" width="13" height="4"/><rect x="322" y="212" width="13" height="4"/><rect x="322" y="217" width="13" height="4"/><rect x="322" y="222" width="13" height="4"/><rect x="322" y="227" width="13" height="4"/><rect x="322" y="232" width="13" height="4"/><rect x="322" y="237" width="13" height="4"/><rect x="322" y="242" width="13" height="4"/><rect x="322" y="247" width="13" height="4"/><rect x="322" y="252" width="13" height="4"/><rect x="322" y="257" width="13" height="4"/><rect x="322" y="262" width="13" height="4"/><rect x="322" y="267" width="13" height="4"/><rect x="322" y="272" width="13" height="4"/><rect x="322" y="277" width="13" height="4"/><rect x="322" y="282" width="13" height="4"/><rect x="322" y="287" width="13" height="4"/><rect x="322" y="292" width="13" height="4"/><rect x="322" y="297" width="13" height="4"/><rect x="322" y="302" width="13" height="4"/><rect x="322" y="307" width="13" height="4"/><rect x="322" y="312" width="13" height="4"/><rect x="322" y="317" width="13" height="4"/><rect x="322" y="322" width="13" height="4"/><rect x="322" y="327" width="13" height="4"/><rect x="322" y="332" width="13" height="4"/><rect x="322" y="337" width="13" height="4"/><rect x="322" y="342" width="13" height="4"/><rect x="322" y="347" width="13" height="4"/><rect x="322" y="352" width="13" height="4"/><rect x="322" y="357" width="13" height="4"/><rect x="322" y="362" width="13" height="4"/><rect x="322" y="367" width="13" height="4"/><rect x="322" y="372" width="13" height="4"/><rect x="322" y="377" width="13" height="4"/><rect x="322" y="382" width="13" height="4"/><rect x="322" y="387" width="13" height="4"/><rect x="322" y="392" width="13" height="4"/><rect x="322" y="397" width="13" height="4"/><rect x="322" y="402" width="13" height="4"/><rect x="322" y="407" width="13" height="4"/><rect x="322" y="412" width="13" height="4"/><rect x="322" y="417" width="13" height="4"/><rect x="322" y="422" width="13" height="4"/><rect x="322" y="427" width="13" height="4"/><rect x="322" y="432" width="13" height="4"/><rect x="322" y="437" width="13" height="4"/><rect x="322" y="442" width="13" height="4"/><rect x="322" y="447" width="13" height="4"/><rect x="322" y="452" width="13" height="4" fill="#b4b4b4"/></g></svg>
<div class="a" style="left:341px;top:155px;width:5px;height:1px;background:#000;"></div>
<div class="t " style="left:347px;top:151.5px;">60.0 dB</div>
<div class="a" style="left:341px;top:180px;width:5px;height:1px;background:#000;"></div>
<div class="t " style="left:347px;top:173.5px;">55.0</div>
<div class="a" style="left:341px;top:205px;width:5px;height:1px;background:#000;"></div>
<div class="t " style="left:347px;top:198.5px;">50.0</div>
<div class="a" style="left:341px;top:230px;width:5px;height:1px;background:#000;"></div>
<div class="t " style="left:347px;top:223.5px;">45.0</div>
<div class="a" style="left:341px;top:255px;width:5px;height:1px;background:#000;"></div>
<div class="t " style="left:347px;top:248.5px;">40.0</div>
<div class="a" style="left:341px;top:280px;width:5px;height:1px;background:#000;"></div>
<div class="t " style="left:347px;top:273.5px;">35.0</div>
<div class="a" style="left:341px;top:305px;width:5px;height:1px;background:#000;"></div>
<div class="t " style="left:347px;top:298.5px;">30.0</div>
<div class="a" style="left:341px;top:330px;width:5px;height:1px;background:#000;"></div>
<div class="t " style="left:347px;top:323.5px;">25.0</div>
<div class="a" style="left:341px;top:355px;width:5px;height:1px;background:#000;"></div>
<div class="t " style="left:347px;top:348.5px;">20.0</div>
<div class="a" style="left:341px;top:380px;width:5px;height:1px;background:#000;"></div>
<div class="t " style="left:347px;top:373.5px;">15.0</div>
<div class="a" style="left:341px;top:405px;width:5px;height:1px;background:#000;"></div>
<div class="t " style="left:347px;top:398.5px;">10.0</div>
<div class="a" style="left:341px;top:430px;width:5px;height:1px;background:#000;"></div>
<div class="t " style="left:347px;top:423.5px;">5.0</div>
<div class="a" style="left:341px;top:454px;width:5px;height:1px;background:#000;"></div>
<div class="t " style="left:347px;top:444.5px;">0.0 dB</div>
<div class="t b n" style="left:8.5px;top:461.5px;width:100px;text-align:center;">4</div>
<div class="t b n" style="left:26.5px;top:461.5px;width:100px;text-align:center;">5</div>
<div class="t b n" style="left:44.5px;top:461.5px;width:100px;text-align:center;">7</div>
<div class="t b n" style="left:62.5px;top:461.5px;width:100px;text-align:center;">9</div>
<div class="t b n" style="left:80.5px;top:461.5px;width:100px;text-align:center;">11</div>
<div class="t b n" style="left:98.5px;top:461.5px;width:100px;text-align:center;">13</div>
<div class="t b n" style="left:116.5px;top:461.5px;width:100px;text-align:center;">20</div>
<div class="t b n" style="left:134.5px;top:461.5px;width:100px;text-align:center;">30</div>
<div class="t b n" style="left:152.5px;top:461.5px;width:100px;text-align:center;">65</div>
<div class="t b n" style="left:170.5px;top:461.5px;width:100px;text-align:center;">66</div>
<div class="t b n" style="left:188.5px;top:461.5px;width:100px;text-align:center;">75</div>
<div class="t b n" style="left:206.5px;top:461.5px;width:100px;text-align:center;">76</div>
<div class="t " style="left:224.5px;top:461.5px;width:100px;text-align:center;">27</div>
<div class="t " style="left:242.5px;top:461.5px;width:100px;text-align:center;">82</div>
<div class="t " style="left:260.5px;top:461.5px;width:100px;text-align:center;">-</div>
<div class="t " style="left:278.5px;top:461.5px;width:100px;text-align:center;">-</div>
<div class="t " style="left:51px;top:480.5px;">Satellites Used in the Position:</div>
<div class="t n" style="left:201.8px;top:480.5px;">12 (4,5,7,9,11,13,20,30,65,66,75,76)</div>
<svg width="1346" height="802" viewBox="0 0 1346 802" shape-rendering="crispEdges"><rect x="430" y="151" width="331" height="15" fill="#000"/><rect x="431" y="152" width="4" height="13" fill="#00ff00"/><rect x="436" y="152" width="4" height="13" fill="#00ff00"/><rect x="441" y="152" width="4" height="13" fill="#00ff00"/><rect x="446" y="152" width="4" height="13" fill="#00ff00"/><rect x="451" y="152" width="4" height="13" fill="#00ff00"/><rect x="456" y="152" width="4" height="13" fill="#00ff00"/><rect x="461" y="152" width="4" height="13" fill="#ffff00"/><rect x="466" y="152" width="4" height="13" fill="#ffff00"/><rect x="471" y="152" width="4" height="13" fill="#ffff00"/><rect x="476" y="152" width="4" height="13" fill="#ffff00"/><rect x="481" y="152" width="4" height="13" fill="#909000"/><rect x="486" y="152" width="4" height="13" fill="#909000"/><rect x="491" y="152" width="4" height="13" fill="#909000"/><rect x="496" y="152" width="4" height="13" fill="#904800"/><rect x="501" y="152" width="4" height="13" fill="#904800"/><rect x="506" y="152" width="4" height="13" fill="#904800"/><rect x="511" y="152" width="4" height="13" fill="#904800"/><rect x="516" y="152" width="4" height="13" fill="#904800"/><rect x="521" y="152" width="4" height="13" fill="#904800"/><rect x="526" y="152" width="4" height="13" fill="#904800"/><rect x="531" y="152" width="4" height="13" fill="#904800"/><rect x="536" y="152" width="4" height="13" fill="#904800"/><rect x="541" y="152" width="4" height="13" fill="#904800"/><rect x="546" y="152" width="4" height="13" fill="#904800"/><rect x="551" y="152" width="4" height="13" fill="#904800"/><rect x="556" y="152" width="4" height="13" fill="#904800"/><rect x="561" y="152" width="4" height="13" fill="#904800"/><rect x="566" y="152" width="4" height="13" fill="#904800"/><rect x="571" y="152" width="4" height="13" fill="#904800"/><rect x="576" y="152" width="4" height="13" fill="#904800"/><rect x="581" y="152" width="4" height="13" fill="#904800"/><rect x="586" y="152" width="4" height="13" fill="#904800"/><rect x="591" y="152" width="4" height="13" fill="#900000"/><rect x="596" y="152" width="4" height="13" fill="#900000"/><rect x="601" y="152" width="4" height="13" fill="#900000"/><rect x="606" y="152" width="4" height="13" fill="#900000"/><rect x="611" y="152" width="4" height="13" fill="#900000"/><rect x="616" y="152" width="4" height="13" fill="#900000"/><rect x="621" y="152" width="4" height="13" fill="#900000"/><rect x="626" y="152" width="4" height="13" fill="#900000"/><rect x="631" y="152" width="4" height="13" fill="#900000"/><rect x="636" y="152" width="4" height="13" fill="#900000"/><rect x="641" y="152" width="4" height="13" fill="#900000"/><rect x="646" y="152" width="4" height="13" fill="#900000"/><rect x="651" y="152" width="4" height="13" fill="#900000"/><rect x="656" y="152" width="4" height="13" fill="#900000"/><rect x="661" y="152" width="4" height="13" fill="#900000"/><rect x="666" y="152" width="4" height="13" fill="#900000"/><rect x="671" y="152" width="4" height="13" fill="#900000"/><rect x="676" y="152" width="4" height="13" fill="#900000"/><rect x="681" y="152" width="4" height="13" fill="#900000"/><rect x="686" y="152" width="4" height="13" fill="#900000"/><rect x="691" y="152" width="4" height="13" fill="#900000"/><rect x="696" y="152" width="4" height="13" fill="#900000"/><rect x="701" y="152" width="4" height="13" fill="#900000"/><rect x="706" y="152" width="4" height="13" fill="#900000"/><rect x="711" y="152" width="4" height="13" fill="#900000"/><rect x="716" y="152" width="4" height="13" fill="#900000"/><rect x="721" y="152" width="4" height="13" fill="#900000"/><rect x="726" y="152" width="4" height="13" fill="#900000"/><rect x="731" y="152" width="4" height="13" fill="#900000"/><rect x="736" y="152" width="4" height="13" fill="#900000"/><rect x="741" y="152" width="4" height="13" fill="#900000"/><rect x="746" y="152" width="4" height="13" fill="#900000"/><rect x="751" y="152" width="4" height="13" fill="#900000"/><rect x="756" y="152" width="4" height="13" fill="#900000"/><rect x="430" y="170" width="331" height="15" fill="#000"/><rect x="431" y="171" width="4" height="13" fill="#00ff00"/><rect x="436" y="171" width="4" height="13" fill="#00ff00"/><rect x="441" y="171" width="4" height="13" fill="#00ff00"/><rect x="446" y="171" width="4" height="13" fill="#00ff00"/><rect x="451" y="171" width="4" height="13" fill="#00ff00"/><rect x="456" y="171" width="4" height="13" fill="#00ff00"/><rect x="461" y="171" width="4" height="13" fill="#ffff00"/><rect x="466" y="171" width="4" height="13" fill="#909000"/><rect x="471" y="171" width="4" height="13" fill="#909000"/><rect x="476" y="171" width="4" height="13" fill="#909000"/><rect x="481" y="171" width="4" height="13" fill="#909000"/><rect x="486" y="171" width="4" height="13" fill="#909000"/><rect x="491" y="171" width="4" height="13" fill="#909000"/><rect x="496" y="171" width="4" height="13" fill="#904800"/><rect x="501" y="171" width="4" height="13" fill="#904800"/><rect x="506" y="171" width="4" height="13" fill="#904800"/><rect x="511" y="171" width="4" height="13" fill="#904800"/><rect x="516" y="171" width="4" height="13" fill="#904800"/><rect x="521" y="171" width="4" height="13" fill="#904800"/><rect x="526" y="171" width="4" height="13" fill="#904800"/><rect x="531" y="171" width="4" height="13" fill="#904800"/><rect x="536" y="171" width="4" height="13" fill="#904800"/><rect x="541" y="171" width="4" height="13" fill="#904800"/><rect x="546" y="171" width="4" height="13" fill="#904800"/><rect x="551" y="171" width="4" height="13" fill="#904800"/><rect x="556" y="171" width="4" height="13" fill="#904800"/><rect x="561" y="171" width="4" height="13" fill="#904800"/><rect x="566" y="171" width="4" height="13" fill="#904800"/><rect x="571" y="171" width="4" height="13" fill="#904800"/><rect x="576" y="171" width="4" height="13" fill="#904800"/><rect x="581" y="171" width="4" height="13" fill="#904800"/><rect x="586" y="171" width="4" height="13" fill="#904800"/><rect x="591" y="171" width="4" height="13" fill="#900000"/><rect x="596" y="171" width="4" height="13" fill="#900000"/><rect x="601" y="171" width="4" height="13" fill="#900000"/><rect x="606" y="171" width="4" height="13" fill="#900000"/><rect x="611" y="171" width="4" height="13" fill="#900000"/><rect x="616" y="171" width="4" height="13" fill="#900000"/><rect x="621" y="171" width="4" height="13" fill="#900000"/><rect x="626" y="171" width="4" height="13" fill="#900000"/><rect x="631" y="171" width="4" height="13" fill="#900000"/><rect x="636" y="171" width="4" height="13" fill="#900000"/><rect x="641" y="171" width="4" height="13" fill="#900000"/><rect x="646" y="171" width="4" height="13" fill="#900000"/><rect x="651" y="171" width="4" height="13" fill="#900000"/><rect x="656" y="171" width="4" height="13" fill="#900000"/><rect x="661" y="171" width="4" height="13" fill="#900000"/><rect x="666" y="171" width="4" height="13" fill="#900000"/><rect x="671" y="171" width="4" height="13" fill="#900000"/><rect x="676" y="171" width="4" height="13" fill="#900000"/><rect x="681" y="171" width="4" height="13" fill="#900000"/><rect x="686" y="171" width="4" height="13" fill="#900000"/><rect x="691" y="171" width="4" height="13" fill="#900000"/><rect x="696" y="171" width="4" height="13" fill="#900000"/><rect x="701" y="171" width="4" height="13" fill="#900000"/><rect x="706" y="171" width="4" height="13" fill="#900000"/><rect x="711" y="171" width="4" height="13" fill="#900000"/><rect x="716" y="171" width="4" height="13" fill="#900000"/><rect x="721" y="171" width="4" height="13" fill="#900000"/><rect x="726" y="171" width="4" height="13" fill="#900000"/><rect x="731" y="171" width="4" height="13" fill="#900000"/><rect x="736" y="171" width="4" height="13" fill="#900000"/><rect x="741" y="171" width="4" height="13" fill="#900000"/><rect x="746" y="171" width="4" height="13" fill="#900000"/><rect x="751" y="171" width="4" height="13" fill="#900000"/><rect x="756" y="171" width="4" height="13" fill="#900000"/><rect x="430" y="189" width="331" height="15" fill="#000"/><rect x="431" y="190" width="4" height="13" fill="#00ff00"/><rect x="436" y="190" width="4" height="13" fill="#00ff00"/><rect x="441" y="190" width="4" height="13" fill="#00ff00"/><rect x="446" y="190" width="4" height="13" fill="#00ff00"/><rect x="451" y="190" width="4" height="13" fill="#00ff00"/><rect x="456" y="190" width="4" height="13" fill="#00ff00"/><rect x="461" y="190" width="4" height="13" fill="#ffff00"/><rect x="466" y="190" width="4" height="13" fill="#909000"/><rect x="471" y="190" width="4" height="13" fill="#909000"/><rect x="476" y="190" width="4" height="13" fill="#909000"/><rect x="481" y="190" width="4" height="13" fill="#909000"/><rect x="486" y="190" width="4" height="13" fill="#909000"/><rect x="491" y="190" width="4" height="13" fill="#909000"/><rect x="496" y="190" width="4" height="13" fill="#904800"/><rect x="501" y="190" width="4" height="13" fill="#904800"/><rect x="506" y="190" width="4" height="13" fill="#904800"/><rect x="511" y="190" width="4" height="13" fill="#904800"/><rect x="516" y="190" width="4" height="13" fill="#904800"/><rect x="521" y="190" width="4" height="13" fill="#904800"/><rect x="526" y="190" width="4" height="13" fill="#904800"/><rect x="531" y="190" width="4" height="13" fill="#904800"/><rect x="536" y="190" width="4" height="13" fill="#904800"/><rect x="541" y="190" width="4" height="13" fill="#904800"/><rect x="546" y="190" width="4" height="13" fill="#904800"/><rect x="551" y="190" width="4" height="13" fill="#904800"/><rect x="556" y="190" width="4" height="13" fill="#904800"/><rect x="561" y="190" width="4" height="13" fill="#904800"/><rect x="566" y="190" width="4" height="13" fill="#904800"/><rect x="571" y="190" width="4" height="13" fill="#904800"/><rect x="576" y="190" width="4" height="13" fill="#904800"/><rect x="581" y="190" width="4" height="13" fill="#904800"/><rect x="586" y="190" width="4" height="13" fill="#904800"/><rect x="591" y="190" width="4" height="13" fill="#900000"/><rect x="596" y="190" width="4" height="13" fill="#900000"/><rect x="601" y="190" width="4" height="13" fill="#900000"/><rect x="606" y="190" width="4" height="13" fill="#900000"/><rect x="611" y="190" width="4" height="13" fill="#900000"/><rect x="616" y="190" width="4" height="13" fill="#900000"/><rect x="621" y="190" width="4" height="13" fill="#900000"/><rect x="626" y="190" width="4" height="13" fill="#900000"/><rect x="631" y="190" width="4" height="13" fill="#900000"/><rect x="636" y="190" width="4" height="13" fill="#900000"/><rect x="641" y="190" width="4" height="13" fill="#900000"/><rect x="646" y="190" width="4" height="13" fill="#900000"/><rect x="651" y="190" width="4" height="13" fill="#900000"/><rect x="656" y="190" width="4" height="13" fill="#900000"/><rect x="661" y="190" width="4" height="13" fill="#900000"/><rect x="666" y="190" width="4" height="13" fill="#900000"/><rect x="671" y="190" width="4" height="13" fill="#900000"/><rect x="676" y="190" width="4" height="13" fill="#900000"/><rect x="681" y="190" width="4" height="13" fill="#900000"/><rect x="686" y="190" width="4" height="13" fill="#900000"/><rect x="691" y="190" width="4" height="13" fill="#900000"/><rect x="696" y="190" width="4" height="13" fill="#900000"/><rect x="701" y="190" width="4" height="13" fill="#900000"/><rect x="706" y="190" width="4" height="13" fill="#900000"/><rect x="711" y="190" width="4" height="13" fill="#900000"/><rect x="716" y="190" width="4" height="13" fill="#900000"/><rect x="721" y="190" width="4" height="13" fill="#900000"/><rect x="726" y="190" width="4" height="13" fill="#900000"/><rect x="731" y="190" width="4" height="13" fill="#900000"/><rect x="736" y="190" width="4" height="13" fill="#900000"/><rect x="741" y="190" width="4" height="13" fill="#900000"/><rect x="746" y="190" width="4" height="13" fill="#900000"/><rect x="751" y="190" width="4" height="13" fill="#900000"/><rect x="756" y="190" width="4" height="13" fill="#900000"/><rect x="433" y="207" width="1" height="7" fill="#000"/><rect x="463" y="207" width="1" height="7" fill="#000"/><rect x="498" y="207" width="1" height="7" fill="#000"/><rect x="528" y="207" width="1" height="7" fill="#000"/><rect x="563" y="207" width="1" height="7" fill="#000"/><rect x="593" y="207" width="1" height="7" fill="#000"/><rect x="628" y="207" width="1" height="7" fill="#000"/><rect x="663" y="207" width="1" height="7" fill="#000"/><rect x="693" y="207" width="1" height="7" fill="#000"/><rect x="728" y="207" width="1" height="7" fill="#000"/><rect x="758" y="207" width="1" height="7" fill="#000"/></svg>
<div class="t  r" style="left:224px;top:152.5px;width:200px;">PDOP:</div>
<div class="t n" style="left:766px;top:152.5px;">1.39</div>
<div class="t  r" style="left:224px;top:171.5px;width:200px;">HDOP:</div>
<div class="t n" style="left:766px;top:171.5px;">0.98</div>
<div class="t  r" style="left:224px;top:190.5px;width:200px;">VDOP:</div>
<div class="t n" style="left:766px;top:190.5px;">0.98</div>
<div class="t " style="left:430px;top:215.5px;">0.0</div>
<div class="t " style="left:413.5px;top:215.5px;width:100px;text-align:center;">1.0</div>
<div class="t " style="left:448.5px;top:215.5px;width:100px;text-align:center;">2.0</div>
<div class="t " style="left:478.5px;top:215.5px;width:100px;text-align:center;">3.0</div>
<div class="t " style="left:513.5px;top:215.5px;width:100px;text-align:center;">4.0</div>
<div class="t " style="left:543.5px;top:215.5px;width:100px;text-align:center;">5.0</div>
<div class="t " style="left:578.5px;top:215.5px;width:100px;text-align:center;">6.0</div>
<div class="t " style="left:613.5px;top:215.5px;width:100px;text-align:center;">7.0</div>
<div class="t " style="left:643.5px;top:215.5px;width:100px;text-align:center;">8.0</div>
<div class="t " style="left:678.5px;top:215.5px;width:100px;text-align:center;">9.0</div>
<div class="t  r" style="left:561px;top:215.5px;width:200px;">10.0</div>
<div class="t  r" style="left:329px;top:258.5px;width:200px;">Mode:</div>
<div class="t v" style="left:536px;top:258.5px;">Automatic</div>
<div class="t  r" style="left:329px;top:277.5px;width:200px;">Fix:</div>
<div class="t v" style="left:536px;top:277.5px;">3D</div>
<div class="t  r" style="left:329px;top:296.5px;width:200px;">Lat:</div>
<div class="t v" style="left:536px;top:296.5px;">42°32'35" N</div>
<div class="t  r" style="left:329px;top:315.5px;width:200px;">Lon:</div>
<div class="t v" style="left:536px;top:315.5px;">27°26'13" E</div>
<div class="t  r" style="left:329px;top:334.5px;width:200px;">UTC Date:</div>
<div class="t v" style="left:536px;top:334.5px;">23-11-2023</div>
<div class="t  r" style="left:329px;top:353.5px;width:200px;">UTC Time:</div>
<div class="t v" style="left:536px;top:353.5px;">10:05:53</div>
<div class="t  r" style="left:329px;top:372.5px;width:200px;">Local Date:</div>
<div class="t v" style="left:536px;top:372.5px;">23-11-2023</div>
<div class="t  r" style="left:329px;top:391.5px;width:200px;">Local Time:</div>
<div class="t v" style="left:536px;top:391.5px;">12:05:53</div>
<div class="t  r" style="left:329px;top:410.5px;width:200px;">Altitude:</div>
<div class="t v" style="left:536px;top:410.5px;">67.5 m</div>
<div class="t  r" style="left:329px;top:427.5px;width:200px;">Accuracy:</div>
<div class="t v" style="left:536px;top:427.5px;">9.20 m</div>
<div class="t  r" style="left:329px;top:444.5px;width:200px;">Course:</div>
<div class="t v" style="left:536px;top:444.5px;">0.00°</div>
<div class="t  r" style="left:329px;top:461.5px;width:200px;">Speed:</div>
<div class="t v" style="left:536px;top:461.5px;">0.30 km/h</div>
<div class="btn" style="left:401px;top:300px;width:101px;height:23px;"></div>
<svg width="1346" height="802" viewBox="0 0 1346 802"><defs><radialGradient id="gl" cx="0.35" cy="0.3" r="0.8"><stop offset="0" stop-color="#b4b4ff"/><stop offset="0.6" stop-color="#5858d0"/><stop offset="1" stop-color="#3a3ab0"/></radialGradient></defs><circle cx="413" cy="312" r="7.1" fill="url(#gl)"/><path d="M407.5 308.5Q409.5 305.8 412.5 305.2L411 308.5L413 311.5L410.5 313L409.8 316.5Q408 315 407 312.5Q406.3 310.5 407.5 308.5Z M415 306.5Q418.5 307.5 419.6 310.5Q420.3 313.5 418.5 316L416.5 314.5L415.2 311Z" fill="#3cb43c"/></svg>
<div class="t tb" style="left:431px;top:305.5px;">Google Maps</div>
<div class="a" style="left:51px;top:513px;width:193px;height:142px;border:1px solid #dcdcdc;"></div>
<div class="t" style="left:56px;top:507.5px;background:#fff;padding:0 2px;">Module Status</div>
<div class="t  r" style="left:-43px;top:523.5px;width:200px;">SW Version:</div>
<div class="t " style="left:163.5px;top:523.5px;">ROM CORE 3.01</div>
<div class="t  r" style="left:-43px;top:542.5px;width:200px;">HW Version:</div>
<div class="t " style="left:163.5px;top:542.5px;">00080000</div>
<div class="t  r" style="left:-43px;top:561.5px;width:200px;">Geodetic Datum:</div>
<div class="t " style="left:163.5px;top:561.5px;">WGS84</div>
<div class="t  r" style="left:-43px;top:580.5px;width:200px;">Noise Level:</div>
<div class="t " style="left:163.5px;top:580.5px;">93</div>
<div class="t  r" style="left:-43px;top:599.5px;width:200px;">Jamming:</div>
<div class="t " style="left:163.5px;top:599.5px;">97%</div>
<div class="t  r" style="left:-43px;top:618.5px;width:200px;">Antenna Supervisor:</div>
<div class="t " style="left:163.5px;top:618.5px;">OK</div>
<div class="t  r" style="left:-43px;top:637.5px;width:200px;">Antenna Power:</div>
<div class="t " style="left:163.5px;top:637.5px;">On</div>
<svg width="1346" height="802" viewBox="0 0 1346 802"><g fill="none" stroke="#cfcfcf" stroke-width="1"><circle cx="1046.5" cy="401.5" r="234.50"/><circle cx="1046.5" cy="401.5" r="208.44"/><circle cx="1046.5" cy="401.5" r="182.39"/><circle cx="1046.5" cy="401.5" r="156.33"/><circle cx="1046.5" cy="401.5" r="130.28"/><circle cx="1046.5" cy="401.5" r="104.22"/><circle cx="1046.5" cy="401.5" r="78.17"/><circle cx="1046.5" cy="401.5" r="52.11"/><circle cx="1046.5" cy="401.5" r="26.06"/></g><g stroke="#d4d4d4" stroke-width="0.9"><line x1="1046.5" y1="401.5" x2="1046.50" y2="167.00"/><line x1="1046.5" y1="401.5" x2="1107.19" y2="174.99"/><line x1="1046.5" y1="401.5" x2="1163.75" y2="198.42"/><line x1="1046.5" y1="401.5" x2="1212.32" y2="235.68"/><line x1="1046.5" y1="401.5" x2="1249.58" y2="284.25"/><line x1="1046.5" y1="401.5" x2="1273.01" y2="340.81"/><line x1="1046.5" y1="401.5" x2="1281.00" y2="401.50"/><line x1="1046.5" y1="401.5" x2="1273.01" y2="462.19"/><line x1="1046.5" y1="401.5" x2="1249.58" y2="518.75"/><line x1="1046.5" y1="401.5" x2="1212.32" y2="567.32"/><line x1="1046.5" y1="401.5" x2="1163.75" y2="604.58"/><line x1="1046.5" y1="401.5" x2="1107.19" y2="628.01"/><line x1="1046.5" y1="401.5" x2="1046.50" y2="636.00"/><line x1="1046.5" y1="401.5" x2="985.81" y2="628.01"/><line x1="1046.5" y1="401.5" x2="929.25" y2="604.58"/><line x1="1046.5" y1="401.5" x2="880.68" y2="567.32"/><line x1="1046.5" y1="401.5" x2="843.42" y2="518.75"/><line x1="1046.5" y1="401.5" x2="819.99" y2="462.19"/><line x1="1046.5" y1="401.5" x2="812.00" y2="401.50"/><line x1="1046.5" y1="401.5" x2="819.99" y2="340.81"/><line x1="1046.5" y1="401.5" x2="843.42" y2="284.25"/><line x1="1046.5" y1="401.5" x2="880.68" y2="235.68"/><line x1="1046.5" y1="401.5" x2="929.25" y2="198.42"/><line x1="1046.5" y1="401.5" x2="985.81" y2="174.99"/></g><circle cx="1046.5" cy="401.5" r="1" fill="#555"/><g font-size="11.3" letter-spacing="0.8" text-anchor="middle" fill="#000" stroke="#000" stroke-width="0.22"><rect x="1042.6" y="160.5" width="7.8" height="13" fill="#fff" stroke="none"/><text x="1046.5" y="170.3">N</text><rect x="1096.5" y="168.5" width="21.4" height="13" fill="#fff" stroke="none"/><text x="1107.2" y="178.3">15°</text><rect x="1153.0" y="191.9" width="21.4" height="13" fill="#fff" stroke="none"/><text x="1163.8" y="201.7">30°</text><rect x="1201.6" y="229.2" width="21.4" height="13" fill="#fff" stroke="none"/><text x="1212.3" y="239.0">45°</text><rect x="1238.9" y="277.8" width="21.4" height="13" fill="#fff" stroke="none"/><text x="1249.6" y="287.6">60°</text><rect x="1262.3" y="334.3" width="21.4" height="13" fill="#fff" stroke="none"/><text x="1273.0" y="344.1">75°</text><rect x="1277.1" y="395.0" width="7.8" height="13" fill="#fff" stroke="none"/><text x="1281.0" y="404.8">E</text><rect x="1258.9" y="455.7" width="28.2" height="13" fill="#fff" stroke="none"/><text x="1273.0" y="465.5">105°</text><rect x="1235.5" y="512.2" width="28.2" height="13" fill="#fff" stroke="none"/><text x="1249.6" y="522.0">120°</text><rect x="1198.2" y="560.8" width="28.2" height="13" fill="#fff" stroke="none"/><text x="1212.3" y="570.6">135°</text><rect x="1149.7" y="598.1" width="28.2" height="13" fill="#fff" stroke="none"/><text x="1163.8" y="607.9">150°</text><rect x="1093.1" y="621.5" width="28.2" height="13" fill="#fff" stroke="none"/><text x="1107.2" y="631.3">165°</text><rect x="1042.6" y="629.5" width="7.8" height="13" fill="#fff" stroke="none"/><text x="1046.5" y="639.3">S</text><rect x="971.7" y="621.5" width="28.2" height="13" fill="#fff" stroke="none"/><text x="985.8" y="631.3">195°</text><rect x="915.1" y="598.1" width="28.2" height="13" fill="#fff" stroke="none"/><text x="929.2" y="607.9">210°</text><rect x="866.6" y="560.8" width="28.2" height="13" fill="#fff" stroke="none"/><text x="880.7" y="570.6">225°</text><rect x="829.3" y="512.3" width="28.2" height="13" fill="#fff" stroke="none"/><text x="843.4" y="522.1">240°</text><rect x="805.9" y="455.7" width="28.2" height="13" fill="#fff" stroke="none"/><text x="820.0" y="465.5">255°</text><rect x="808.1" y="395.0" width="7.8" height="13" fill="#fff" stroke="none"/><text x="812.0" y="404.8">W</text><rect x="805.9" y="334.3" width="28.2" height="13" fill="#fff" stroke="none"/><text x="820.0" y="344.1">285°</text><rect x="829.3" y="277.8" width="28.2" height="13" fill="#fff" stroke="none"/><text x="843.4" y="287.6">300°</text><rect x="866.6" y="229.2" width="28.2" height="13" fill="#fff" stroke="none"/><text x="880.7" y="239.0">315°</text><rect x="915.1" y="191.9" width="28.2" height="13" fill="#fff" stroke="none"/><text x="929.2" y="201.7">330°</text><rect x="971.7" y="168.5" width="28.2" height="13" fill="#fff" stroke="none"/><text x="985.8" y="178.3">345°</text><rect x="1038.3" y="186.6" width="21.4" height="13" fill="#fff" stroke="none"/><text x="1049.0" y="196.4">10°</text><rect x="1038.3" y="212.6" width="21.4" height="13" fill="#fff" stroke="none"/><text x="1049.0" y="222.4">20°</text><rect x="1038.3" y="238.7" width="21.4" height="13" fill="#fff" stroke="none"/><text x="1049.0" y="248.5">30°</text><rect x="1038.3" y="264.7" width="21.4" height="13" fill="#fff" stroke="none"/><text x="1049.0" y="274.5">40°</text><rect x="1038.3" y="290.8" width="21.4" height="13" fill="#fff" stroke="none"/><text x="1049.0" y="300.6">50°</text><rect x="1038.3" y="316.8" width="21.4" height="13" fill="#fff" stroke="none"/><text x="1049.0" y="326.6">60°</text><rect x="1038.3" y="342.9" width="21.4" height="13" fill="#fff" stroke="none"/><text x="1049.0" y="352.7">70°</text><rect x="1038.3" y="368.9" width="21.4" height="13" fill="#fff" stroke="none"/><text x="1049.0" y="378.7">80°</text></g><g font-size="11.3" letter-spacing="0.8" text-anchor="middle"><circle cx="941.2" cy="212.3" r="10.5" fill="#c0c0c0" stroke="#303030" stroke-width="1.25"/><text x="941.6" y="216.3" fill="#000" stroke="#000" stroke-width="0.22">83</text><circle cx="932.5" cy="270" r="10.5" fill="#c0c0c0" stroke="#303030" stroke-width="1.25"/><text x="932.9" y="274" fill="#000" stroke="#000" stroke-width="0.22">67</text><circle cx="925.3" cy="284.4" r="10.5" fill="#00ff00" stroke="#0c3a0c" stroke-width="1.25"/><text x="925.6999999999999" y="288.4" fill="#000" stroke="#000" stroke-width="0.22">5</text><circle cx="838.3" cy="321.4" r="10.5" fill="#4f2a2a" stroke="#2a1616" stroke-width="1.25"/><text x="838.6999999999999" y="325.4" fill="#fff" stroke="#fff" stroke-width="0.22">82</text><circle cx="853.6" cy="334.2" r="10.5" fill="#00ff00" stroke="#0c3a0c" stroke-width="1.25"/><text x="854.0" y="338.2" fill="#000" stroke="#000" stroke-width="0.22">13</text><circle cx="945.3" cy="383.2" r="10.5" fill="#00ff00" stroke="#0c3a0c" stroke-width="1.25"/><text x="945.6999999999999" y="387.2" fill="#000" stroke="#000" stroke-width="0.22">20</text><circle cx="1134.3" cy="274.5" r="10.5" fill="#ff0000" stroke="#4a0c0c" stroke-width="1.25"/><text x="1134.7" y="278.5" fill="#fff" stroke="#fff" stroke-width="0.22">75</text><circle cx="1220.6" cy="264.1" r="10.5" fill="#4f2a2a" stroke="#2a1616" stroke-width="1.25"/><text x="1221.0" y="268.1" fill="#fff" stroke="#fff" stroke-width="0.22">27</text><circle cx="1048.6" cy="356.4" r="10.5" fill="#00ff00" stroke="#0c3a0c" stroke-width="1.25"/><text x="1049.0" y="360.4" fill="#000" stroke="#000" stroke-width="0.22">66</text><circle cx="1070.5" cy="367" r="10.5" fill="#ff0000" stroke="#4a0c0c" stroke-width="1.25"/><text x="1070.9" y="371" fill="#fff" stroke="#fff" stroke-width="0.22">7</text><circle cx="1262" cy="397.3" r="10.5" fill="#c0c0c0" stroke="#303030" stroke-width="1.25"/><text x="1262.4" y="401.3" fill="#000" stroke="#000" stroke-width="0.22">8</text><circle cx="992.4" cy="413.2" r="10.5" fill="#ff0000" stroke="#4a0c0c" stroke-width="1.25"/><text x="992.8" y="417.2" fill="#fff" stroke="#fff" stroke-width="0.22">30</text><circle cx="1060.3" cy="420.2" r="10.5" fill="#00ff00" stroke="#0c3a0c" stroke-width="1.25"/><text x="1060.7" y="424.2" fill="#000" stroke="#000" stroke-width="0.22">76</text><circle cx="1170.6" cy="420.1" r="10.5" fill="#00ff00" stroke="#0c3a0c" stroke-width="1.25"/><text x="1171.0" y="424.1" fill="#000" stroke="#000" stroke-width="0.22">9</text><circle cx="1154.4" cy="465.2" r="10.5" fill="#00ff00" stroke="#0c3a0c" stroke-width="1.25"/><text x="1154.8000000000002" y="469.2" fill="#000" stroke="#000" stroke-width="0.22">65</text><circle cx="1251.3" cy="452.2" r="10.5" fill="#ff0000" stroke="#4a0c0c" stroke-width="1.25"/><text x="1251.7" y="456.2" fill="#fff" stroke="#fff" stroke-width="0.22">4</text><circle cx="866.5" cy="473.3" r="10.5" fill="#ff0000" stroke="#4a0c0c" stroke-width="1.25"/><text x="866.9" y="477.3" fill="#fff" stroke="#fff" stroke-width="0.22">11</text><circle cx="987.4" cy="532.6" r="10.5" fill="#c0c0c0" stroke="#303030" stroke-width="1.25"/><text x="987.8" y="536.6" fill="#000" stroke="#000" stroke-width="0.22">77</text><circle cx="1051.7" cy="565.4" r="10.5" fill="#c0c0c0" stroke="#303030" stroke-width="1.25"/><text x="1052.1000000000001" y="569.4" fill="#000" stroke="#000" stroke-width="0.22">14</text><circle cx="904" cy="575.4" r="10.5" fill="#c0c0c0" stroke="#303030" stroke-width="1.25"/><text x="904.4" y="579.4" fill="#000" stroke="#000" stroke-width="0.22">6</text><circle cx="1024.3" cy="608.5" r="10.5" fill="#c0c0c0" stroke="#303030" stroke-width="1.25"/><text x="1024.7" y="612.5" fill="#000" stroke="#000" stroke-width="0.22">22</text></g></svg>
<div class="a" style="left:41px;top:686px;width:1264px;height:56px;background:#fff;"></div>
<svg width="1346" height="802" viewBox="0 0 1346 802"><defs><linearGradient id="bg1" x1="0" y1="0" x2="0" y2="1"><stop offset="0" stop-color="#c6c6c6"/><stop offset="0.5" stop-color="#979797"/><stop offset="1" stop-color="#686868"/></linearGradient><linearGradient id="ar" x1="0" y1="0" x2="0" y2="1"><stop offset="0" stop-color="#e6e6e6"/><stop offset="1" stop-color="#a8a8a8"/></linearGradient></defs><rect x="45" y="688" width="236" height="52" fill="#000"/><path d="M50 690H69L72 693V709L69 712H50L47 709V693Z" fill="url(#bg1)"/><path d="M50 716H69L72 719V735L69 738H50L47 735V719Z" fill="url(#bg1)"/><path d="M257 690H276L279 693V709L276 712H257L254 709V693Z" fill="url(#bg1)"/><path d="M257 716H276L279 719V735L276 738H257L254 735V719Z" fill="url(#bg1)"/><g fill="url(#ar)"><path d="M257.7 693.3L277.3 700.3L258.4 707Z"/><path d="M257.7 719.5L267.9 726.2L258 732.8Z"/><path d="M266 719.5L276.2 725.8L266.8 732.8Z"/></g><g stroke="#4a4a4a" stroke-width="0.9" fill="none"><path d="M277.3 700.6L258.6 707.3"/><path d="M267.9 726.5L258.2 733.1"/><path d="M276.2 726.1L267 733.1"/></g><g fill="url(#ar)"><path d="M68.30000000000001 693.3L48.69999999999999 700.3L67.60000000000002 707Z"/><path d="M68.30000000000001 719.5L58.10000000000002 726.2L68 732.8Z"/><path d="M60 719.5L49.80000000000001 725.8L59.19999999999999 732.8Z"/></g><g stroke="#4a4a4a" stroke-width="0.9" fill="none"><path d="M48.69999999999999 700.6L67.39999999999998 707.3"/><path d="M58.10000000000002 726.5L67.80000000000001 733.1"/><path d="M49.80000000000001 726.1L59 733.1"/></g><g transform="translate(83.15 689.8) skewX(-5.3)"><polygon points="1.60,0.00 19.20,0.00 15.80,5.00 5.00,5.00" fill="#4e4300"/><polygon points="20.80,1.60 20.80,18.50 15.80,16.55 15.80,5.00" fill="#4e4300"/><polygon points="20.80,18.50 20.80,36.50 15.80,33.10 15.80,20.45" fill="#4e4300"/><polygon points="1.60,38.10 19.20,38.10 15.80,33.10 5.00,33.10" fill="#4e4300"/><polygon points="0.00,18.50 0.00,36.50 5.00,33.10 5.00,20.45" fill="#4e4300"/><polygon points="0.00,1.60 0.00,18.50 5.00,16.55 5.00,5.00" fill="#4e4300"/><polygon points="1.20,18.50 5.00,16.55 15.80,16.55 19.60,18.50 15.80,20.45 5.00,20.45" fill="#4e4300"/><g stroke="#000" stroke-width="0.75" fill="none"><path d="M0.00 0.00L5.00 5.00"/><path d="M20.80 0.00L15.80 5.00"/><path d="M0.00 38.10L5.00 33.10"/><path d="M20.80 38.10L15.80 33.10"/><path d="M0.00 18.20L5.60 16.25"/><path d="M0.00 18.80L5.60 20.75"/><path d="M20.80 18.20L15.20 16.25"/><path d="M20.80 18.80L15.20 20.75"/></g></g><g transform="translate(109.15 689.8) skewX(-5.3)"><polygon points="1.60,0.00 19.20,0.00 15.80,5.00 5.00,5.00" fill="#ffe600"/><polygon points="20.80,1.60 20.80,18.50 15.80,16.55 15.80,5.00" fill="#ffe600"/><polygon points="20.80,18.50 20.80,36.50 15.80,33.10 15.80,20.45" fill="#ffe600"/><polygon points="1.60,38.10 19.20,38.10 15.80,33.10 5.00,33.10" fill="#ffe600"/><polygon points="0.00,18.50 0.00,36.50 5.00,33.10 5.00,20.45" fill="#4e4300"/><polygon points="0.00,1.60 0.00,18.50 5.00,16.55 5.00,5.00" fill="#ffe600"/><polygon points="1.20,18.50 5.00,16.55 15.80,16.55 19.60,18.50 15.80,20.45 5.00,20.45" fill="#ffe600"/><g stroke="#000" stroke-width="0.75" fill="none"><path d="M0.00 0.00L5.00 5.00"/><path d="M20.80 0.00L15.80 5.00"/><path d="M0.00 38.10L5.00 33.10"/><path d="M20.80 38.10L15.80 33.10"/><path d="M0.00 18.20L5.60 16.25"/><path d="M0.00 18.80L5.60 20.75"/><path d="M20.80 18.20L15.20 16.25"/><path d="M20.80 18.80L15.20 20.75"/></g></g><g transform="translate(134.85 689.8) skewX(-5.3)"><polygon points="1.60,0.00 19.20,0.00 15.80,5.00 5.00,5.00" fill="#4e4300"/><polygon points="20.80,1.60 20.80,18.50 15.80,16.55 15.80,5.00" fill="#ffe600"/><polygon points="20.80,18.50 20.80,36.50 15.80,33.10 15.80,20.45" fill="#ffe600"/><polygon points="1.60,38.10 19.20,38.10 15.80,33.10 5.00,33.10" fill="#4e4300"/><polygon points="0.00,18.50 0.00,36.50 5.00,33.10 5.00,20.45" fill="#4e4300"/><polygon points="0.00,1.60 0.00,18.50 5.00,16.55 5.00,5.00" fill="#4e4300"/><polygon points="1.20,18.50 5.00,16.55 15.80,16.55 19.60,18.50 15.80,20.45 5.00,20.45" fill="#4e4300"/><g stroke="#000" stroke-width="0.75" fill="none"><path d="M0.00 0.00L5.00 5.00"/><path d="M20.80 0.00L15.80 5.00"/><path d="M0.00 38.10L5.00 33.10"/><path d="M20.80 38.10L15.80 33.10"/><path d="M0.00 18.20L5.60 16.25"/><path d="M0.00 18.80L5.60 20.75"/><path d="M20.80 18.20L15.20 16.25"/><path d="M20.80 18.80L15.20 20.75"/></g></g><g transform="translate(167.75 689.8) skewX(-5.3)"><polygon points="1.60,0.00 19.20,0.00 15.80,5.00 5.00,5.00" fill="#4e4300"/><polygon points="20.80,1.60 20.80,18.50 15.80,16.55 15.80,5.00" fill="#ffe600"/><polygon points="20.80,18.50 20.80,36.50 15.80,33.10 15.80,20.45" fill="#ffe600"/><polygon points="1.60,38.10 19.20,38.10 15.80,33.10 5.00,33.10" fill="#4e4300"/><polygon points="0.00,18.50 0.00,36.50 5.00,33.10 5.00,20.45" fill="#4e4300"/><polygon points="0.00,1.60 0.00,18.50 5.00,16.55 5.00,5.00" fill="#4e4300"/><polygon points="1.20,18.50 5.00,16.55 15.80,16.55 19.60,18.50 15.80,20.45 5.00,20.45" fill="#4e4300"/><g stroke="#000" stroke-width="0.75" fill="none"><path d="M0.00 0.00L5.00 5.00"/><path d="M20.80 0.00L15.80 5.00"/><path d="M0.00 38.10L5.00 33.10"/><path d="M20.80 38.10L15.80 33.10"/><path d="M0.00 18.20L5.60 16.25"/><path d="M0.00 18.80L5.60 20.75"/><path d="M20.80 18.20L15.20 16.25"/><path d="M20.80 18.80L15.20 20.75"/></g></g><g transform="translate(193.15 689.8) skewX(-5.3)"><polygon points="1.60,0.00 19.20,0.00 15.80,5.00 5.00,5.00" fill="#ffe600"/><polygon points="20.80,1.60 20.80,18.50 15.80,16.55 15.80,5.00" fill="#ffe600"/><polygon points="20.80,18.50 20.80,36.50 15.80,33.10 15.80,20.45" fill="#ffe600"/><polygon points="1.60,38.10 19.20,38.10 15.80,33.10 5.00,33.10" fill="#ffe600"/><polygon points="0.00,18.50 0.00,36.50 5.00,33.10 5.00,20.45" fill="#ffe600"/><polygon points="0.00,1.60 0.00,18.50 5.00,16.55 5.00,5.00" fill="#ffe600"/><polygon points="1.20,18.50 5.00,16.55 15.80,16.55 19.60,18.50 15.80,20.45 5.00,20.45" fill="#4e4300"/><g stroke="#000" stroke-width="0.75" fill="none"><path d="M0.00 0.00L5.00 5.00"/><path d="M20.80 0.00L15.80 5.00"/><path d="M0.00 38.10L5.00 33.10"/><path d="M20.80 38.10L15.80 33.10"/><path d="M0.00 18.20L5.60 16.25"/><path d="M0.00 18.80L5.60 20.75"/><path d="M20.80 18.20L15.20 16.25"/><path d="M20.80 18.80L15.20 20.75"/></g></g><rect x="156.6" y="724.2" width="4.8" height="4.4" fill="#ffe600"/><g><circle cx="227.4" cy="698.4" r="9.4" fill="#ffe600"/><circle cx="238.5" cy="698.4" r="9.4" fill="#ffe600"/><g fill="none" stroke="#000" stroke-width="0.7"><path d="M219.9 698.4A7.5 7.5 0 0 1 234.9 698.4A3.6 3.6 0 0 0 242.1 698.4"/><path d="M221.9 698.4A5.5 5.5 0 0 1 232.9 698.4A5.6 5.6 0 0 0 244.1 698.4"/><path d="M223.9 698.4A3.5 3.5 0 0 1 230.9 698.4A7.6 7.6 0 0 0 246.1 698.4"/><path d="M230.9 699.6A3.6 3.6 0 0 1 224.4 700.4"/><path d="M232.4 701A5.4 5.4 0 0 1 223.6 702.4"/><path d="M235 697.2A3.6 3.6 0 0 1 241.5 696.4"/><path d="M233.5 695.8A5.4 5.4 0 0 1 242.3 694.4"/></g><circle cx="227.4" cy="698.5" r="1.75" fill="#000"/><circle cx="238.5" cy="698.5" r="1.75" fill="#000"/></g><g fill="none" stroke="#ffe600" stroke-width="2"><circle cx="227.4" cy="719.5" r="8.3"/><circle cx="238.5" cy="719.5" r="8.3"/></g><rect x="199.2" y="731" width="4" height="7" fill="#ffe600"/><rect x="204.2" y="731" width="4" height="7" fill="#ffe600"/><rect x="209.2" y="731" width="4" height="7" fill="#ffe600"/><rect x="214.2" y="731" width="4" height="7" fill="#8c7e00"/><rect x="219.2" y="731" width="4" height="7" fill="#8c7e00"/><rect x="224.2" y="731" width="4" height="7" fill="#8c7e00"/><rect x="229.2" y="731" width="4" height="7" fill="#8c7e00"/><rect x="234.2" y="731" width="4" height="7" fill="#8c7e00"/><rect x="239.2" y="731" width="4" height="7" fill="#8c7e00"/><rect x="244.2" y="731" width="4" height="7" fill="#8c7e00"/><rect x="78" y="731" width="27" height="7" fill="#3c3300"/><rect x="106" y="731" width="16.3" height="7" fill="#ffe600"/><rect x="127" y="731" width="20" height="7" fill="#3c3300"/><rect x="148.3" y="731" width="19" height="7" fill="#ffe600"/><rect x="172" y="731" width="26.3" height="7" fill="#3c3300"/><g font-size="7" font-weight="bold"><text class="px" x="78.8" y="737.1" fill="#ffe600" textLength="25.6" lengthAdjust="spacingAndGlyphs">DEEMPH</text><text class="px" x="106.8" y="737.1" fill="#000" textLength="15" lengthAdjust="spacingAndGlyphs">FLAT</text><text class="px" x="127.8" y="737.1" fill="#ffe600" textLength="18.6" lengthAdjust="spacingAndGlyphs">IFBW</text><text class="px" x="149" y="737.1" fill="#000" textLength="17.6" lengthAdjust="spacingAndGlyphs">WIDE</text><text class="px" x="172.7" y="737.1" fill="#ffe600" textLength="25.2" lengthAdjust="spacingAndGlyphs">QUALITY</text></g></svg>
<div class="a" style="left:287px;top:690px;width:61px;height:19px;border:1px solid #7a7a7a;background:#fff;"></div>
<div class="t n r" style="left:128.3px;top:693.8px;width:200px;">91.10</div>
<div class="a" style="left:332px;top:693px;width:15px;height:7px;background:#f0f0f0;border:1px solid #fff;border-right-color:#c8c8c8;border-bottom-color:#c8c8c8;box-sizing:border-box;"></div>
<div class="a" style="left:332px;top:701px;width:15px;height:7px;background:#f0f0f0;border:1px solid #fff;border-right-color:#c8c8c8;border-bottom-color:#c8c8c8;box-sizing:border-box;"></div>
<svg width="1346" height="802" viewBox="0 0 1346 802"><path d="M336.5 698L339.7 694.8L342.9 698Z M336.7 703.3L339.7 706.3L342.7 703.3Z" fill="#000"/></svg>
<div class="t tb" style="left:353.8px;top:693.5px;">MHz</div>
<div class="btn" style="left:379px;top:689px;width:38px;height:22px;"></div>
<div class="t " style="left:348.0px;top:694.0px;width:100px;text-align:center;">Set</div>
<div class="t tb" style="left:286.5px;top:721.0px;">Region</div>
<div class="btn" style="left:326px;top:717px;width:92px;height:21px;"></div>
<div class="t " style="left:329.5px;top:721.5px;">General</div>
<svg width="1346" height="802" viewBox="0 0 1346 802"><path d="M404.5 726.0L408.5 730.0L412.5 726.0" stroke="#444" stroke-width="1" fill="none"/></svg>
<div class="pre" style="left:422px;top:689px;width:64px;height:22px;"></div>
<div class="t n r" style="left:278.8px;top:694.0px;width:200px;">91.10</div>
<div class="pre" style="left:488px;top:689px;width:64px;height:22px;"></div>
<div class="t n r" style="left:344.79999999999995px;top:694.0px;width:200px;">95.70</div>
<div class="pre" style="left:554px;top:689px;width:64px;height:22px;"></div>
<div class="t dash r" style="left:407.5px;top:694.0px;width:200px;">---.--</div>
<div class="pre" style="left:422px;top:717px;width:64px;height:22px;"></div>
<div class="t n r" style="left:278.8px;top:722.0px;width:200px;">99.90</div>
<div class="pre" style="left:488px;top:717px;width:64px;height:22px;"></div>
<div class="t dash r" style="left:341.5px;top:722.0px;width:200px;">---.--</div>
<svg width="1346" height="802" viewBox="0 0 1346 802"><g transform="translate(426 693)"><defs><linearGradient id="fg426_693" x1="0" y1="0" x2="0" y2="1"><stop offset="0" stop-color="#7096f8"/><stop offset="1" stop-color="#2a4cd4"/></linearGradient></defs><path d="M1.8 0.4H12.2Q13.6 0.4 13.6 1.8V12.2L12.2 13.6H1.8L0.4 12.2V1.8Q0.4 0.4 1.8 0.4Z" fill="url(#fg426_693)" stroke="#2c50d6" stroke-width="0.8"/><rect x="2.2" y="1.1" width="9.6" height="4.6" fill="#f6f8ff"/><rect x="2.2" y="1.1" width="9.6" height="1.6" fill="#dfe7ff"/><rect x="3.3" y="8.4" width="7.8" height="5.4" fill="#e6e4dc"/><rect x="4.2" y="9.3" width="2" height="4.3" fill="#1234b4"/></g><g transform="translate(492 693)"><defs><linearGradient id="fg492_693" x1="0" y1="0" x2="0" y2="1"><stop offset="0" stop-color="#7096f8"/><stop offset="1" stop-color="#2a4cd4"/></linearGradient></defs><path d="M1.8 0.4H12.2Q13.6 0.4 13.6 1.8V12.2L12.2 13.6H1.8L0.4 12.2V1.8Q0.4 0.4 1.8 0.4Z" fill="url(#fg492_693)" stroke="#2c50d6" stroke-width="0.8"/><rect x="2.2" y="1.1" width="9.6" height="4.6" fill="#f6f8ff"/><rect x="2.2" y="1.1" width="9.6" height="1.6" fill="#dfe7ff"/><rect x="3.3" y="8.4" width="7.8" height="5.4" fill="#e6e4dc"/><rect x="4.2" y="9.3" width="2" height="4.3" fill="#1234b4"/></g><g transform="translate(558 693)"><defs><linearGradient id="fg558_693" x1="0" y1="0" x2="0" y2="1"><stop offset="0" stop-color="#7096f8"/><stop offset="1" stop-color="#2a4cd4"/></linearGradient></defs><path d="M1.8 0.4H12.2Q13.6 0.4 13.6 1.8V12.2L12.2 13.6H1.8L0.4 12.2V1.8Q0.4 0.4 1.8 0.4Z" fill="url(#fg558_693)" stroke="#2c50d6" stroke-width="0.8"/><rect x="2.2" y="1.1" width="9.6" height="4.6" fill="#f6f8ff"/><rect x="2.2" y="1.1" width="9.6" height="1.6" fill="#dfe7ff"/><rect x="3.3" y="8.4" width="7.8" height="5.4" fill="#e6e4dc"/><rect x="4.2" y="9.3" width="2" height="4.3" fill="#1234b4"/></g><g transform="translate(426 721)"><defs><linearGradient id="fg426_721" x1="0" y1="0" x2="0" y2="1"><stop offset="0" stop-color="#7096f8"/><stop offset="1" stop-color="#2a4cd4"/></linearGradient></defs><path d="M1.8 0.4H12.2Q13.6 0.4 13.6 1.8V12.2L12.2 13.6H1.8L0.4 12.2V1.8Q0.4 0.4 1.8 0.4Z" fill="url(#fg426_721)" stroke="#2c50d6" stroke-width="0.8"/><rect x="2.2" y="1.1" width="9.6" height="4.6" fill="#f6f8ff"/><rect x="2.2" y="1.1" width="9.6" height="1.6" fill="#dfe7ff"/><rect x="3.3" y="8.4" width="7.8" height="5.4" fill="#e6e4dc"/><rect x="4.2" y="9.3" width="2" height="4.3" fill="#1234b4"/></g><g transform="translate(492 721)"><defs><linearGradient id="fg492_721" x1="0" y1="0" x2="0" y2="1"><stop offset="0" stop-color="#7096f8"/><stop offset="1" stop-color="#2a4cd4"/></linearGradient></defs><path d="M1.8 0.4H12.2Q13.6 0.4 13.6 1.8V12.2L12.2 13.6H1.8L0.4 12.2V1.8Q0.4 0.4 1.8 0.4Z" fill="url(#fg492_721)" stroke="#2c50d6" stroke-width="0.8"/><rect x="2.2" y="1.1" width="9.6" height="4.6" fill="#f6f8ff"/><rect x="2.2" y="1.1" width="9.6" height="1.6" fill="#dfe7ff"/><rect x="3.3" y="8.4" width="7.8" height="5.4" fill="#e6e4dc"/><rect x="4.2" y="9.3" width="2" height="4.3" fill="#1234b4"/></g></svg>
<div class="btn" style="left:554px;top:717px;width:64px;height:21px;"></div>
<div class="t " style="left:557.5px;top:721.5px;">More</div>
<svg width="1346" height="802" viewBox="0 0 1346 802"><path d="M604.5 726.0L608.5 730.0L612.5 726.0" stroke="#444" stroke-width="1" fill="none"/></svg>
<div class="a" style="left:621px;top:688px;width:45px;height:21px;border:1px solid #0078d7;background:#cce4f7;"></div>
<div class="a" style="left:630px;top:693px;width:4px;height:12px;border:1px solid #3a7a1a;background:#33ee00;"></div>
<div class="t " style="left:640px;top:693.5px;">ANT</div>
<div class="btn" style="left:621px;top:716px;width:47px;height:23px;"></div>
<div class="a" style="left:630px;top:721px;width:4px;height:12px;border:1px solid #505050;background:#808080;"></div>
<div class="t " style="left:640px;top:721.5px;">MPX</div>
<svg width="1346" height="802" viewBox="0 0 1346 802"><g transform="translate(747 697)" fill="#0038a8"><path fill-rule="evenodd" d="M0 0H81Q88 0 88 7V9.5Q88 15.5 84.5 15.5Q88 15.5 88 21.5V24Q88 31 81 31H0Z M5 5V25.5H38Q42 25.5 42 21.5V9Q42 5 38 5Z M49.5 5V10.3H79Q83 10.3 83 7.6Q83 5 79 5Z M49.5 20.2V25.5H79Q83 25.5 83 22.8Q83 20.2 79 20.2Z"/><path d="M9.5 10.3H33Q38 10.3 38 15.2Q38 20.2 33 20.2H9.5Z"/><text x="96" y="21.2" font-size="27" font-weight="bold" stroke="#0038a8" stroke-width="0.9" textLength="106" lengthAdjust="spacingAndGlyphs">DEVA</text><text x="96.5" y="30.8" font-size="8.2" font-weight="bold" textLength="107" lengthAdjust="spacingAndGlyphs">BROADCAST</text><text x="200" y="8.5" font-size="8.5" font-weight="bold">®</text></g></svg>
<div class="btn" style="left:1032px;top:687px;width:52px;height:23px;"></div>
<div class="btn" style="left:1256px;top:687px;width:46px;height:23px;"></div>
<div class="btn" style="left:1175px;top:716px;width:73px;height:23px;"></div>
<div class="btn" style="left:1256px;top:716px;width:46px;height:23px;"></div>
<svg width="1346" height="802" viewBox="0 0 1346 802"><circle cx="1043.4" cy="699.2" r="7" fill="#f4f4f4" stroke="#111" stroke-width="1.1"/><path d="M1041.6 695.8L1046.4 699.3L1041.6 702.9Z" fill="#0a8a0a"/><rect x="1092" y="696.3" width="2.4" height="5.6" fill="#000"/><path d="M1094.2 696.3L1099.6 691.3V706.8L1094.2 701.9Z" fill="#ffff00" stroke="#000" stroke-width="1" stroke-linejoin="round"/><ellipse cx="1099.9" cy="699" rx="1.8" ry="7.5" fill="#d0d0d0" stroke="#000" stroke-width="1.1"/><path d="M1103.3 695.2Q1104.7 699 1103.3 702.8M1105.2 693.6Q1107.2 699 1105.2 704.4" fill="none" stroke="#000" stroke-width="1"/><rect x="1113.5" y="697.5" width="95" height="3" fill="#e7eaea" stroke="#d6d6d6"/><path d="M1199 690H1210V703L1204.5 709L1199 703Z" fill="#0078d7"/><defs><radialGradient id="rg" cx="0.4" cy="0.35" r="0.7"><stop offset="0" stop-color="#b4b4b4"/><stop offset="1" stop-color="#585858"/></radialGradient></defs><circle cx="1265.6" cy="699" r="6" fill="url(#rg)" stroke="#7a7a7a" stroke-width="0.6"/><path d="M1187.70 722.15L1188.72 720.23L1190.93 721.15L1190.30 723.23L1191.57 724.50L1193.65 723.87L1194.57 726.08L1192.65 727.10L1192.65 728.90L1194.57 729.92L1193.65 732.13L1191.57 731.50L1190.30 732.77L1190.93 734.85L1188.72 735.77L1187.70 733.85L1185.90 733.85L1184.88 735.77L1182.67 734.85L1183.30 732.77L1182.03 731.50L1179.95 732.13L1179.03 729.92L1180.95 728.90L1180.95 727.10L1179.03 726.08L1179.95 723.87L1182.03 724.50L1183.30 723.23L1182.67 721.15L1184.88 720.23L1185.90 722.15Z" fill="none" stroke="#333" stroke-width="1.0" stroke-linejoin="round"/><circle cx="1186.8" cy="728" r="2.88" fill="none" stroke="#333" stroke-width="1.0"/></svg>
<div class="t " style="left:1058.5px;top:692.5px;">Play</div>
<div class="t " style="left:1218px;top:692.0px;">100 %</div>
<div class="t " style="left:1275.5px;top:692.5px;letter-spacing:-0.9px;">REC</div>
<div class="btn" style="left:1031px;top:717px;width:137px;height:21px;"></div>
<div class="t " style="left:1034.5px;top:721.5px;">Primary Sound Driver</div>
<svg width="1346" height="802" viewBox="0 0 1346 802"><path d="M1154.5 726.0L1158.5 730.0L1162.5 726.0" stroke="#444" stroke-width="1" fill="none"/></svg>
<div class="t " style="left:1202.5px;top:721.5px;">Settings</div>
<div class="t " style="left:1261px;top:721.5px;">Replay</div>
<div class="a" style="left:41px;top:742px;width:1264px;height:1px;background:#dcdcdc;"></div>
<div class="a" style="left:710px;top:745px;width:1px;height:15px;background:#d7d7d7;"></div>
<div class="a" style="left:772px;top:745px;width:1px;height:15px;background:#d7d7d7;"></div>
<div class="a" style="left:919px;top:745px;width:1px;height:15px;background:#d7d7d7;"></div>
<div class="a" style="left:1007px;top:745px;width:1px;height:15px;background:#d7d7d7;"></div>
<div class="a" style="left:1117px;top:745px;width:1px;height:15px;background:#d7d7d7;"></div>
<div class="a" style="left:1177px;top:745px;width:1px;height:15px;background:#d7d7d7;"></div>
<div class="t sb" style="left:718.5px;top:746.5px;">00:07:09</div>
<div class="t sb" style="left:780.5px;top:746.5px;">FW: 1.2.1560  26-06-2017</div>
<div class="t sb" style="left:927.5px;top:746.5px;letter-spacing:-0.6px;">SN: BS2N81FC</div>
<div class="t sb" style="left:1015.5px;top:746.5px;">Ver: 2.1.0.278 x32</div>
<div class="t sb" style="left:1125.5px;top:746.5px;letter-spacing:-0.2px;">SSE: Yes</div>
<div class="t sb" style="left:1185.5px;top:746.5px;">Cal: 08-17-2023 11:32</div>
<div class="a" style="left:1301px;top:757px;width:2px;height:2px;background:#bfbfbf;"></div><div class="a" style="left:1301px;top:754px;width:2px;height:2px;background:#bfbfbf;"></div><div class="a" style="left:1298px;top:757px;width:2px;height:2px;background:#bfbfbf;"></div><div class="a" style="left:1301px;top:751px;width:2px;height:2px;background:#bfbfbf;"></div><div class="a" style="left:1298px;top:754px;width:2px;height:2px;background:#bfbfbf;"></div><div class="a" style="left:1295px;top:757px;width:2px;height:2px;background:#bfbfbf;"></div>
</body></html>
